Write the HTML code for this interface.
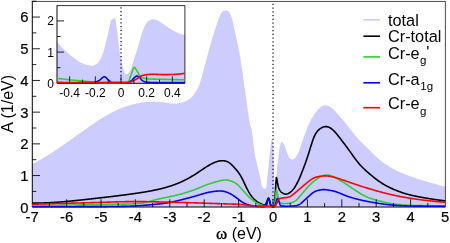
<!DOCTYPE html>
<html><head><meta charset="utf-8"><title>Spectral function</title>
<style>
html,body{margin:0;padding:0;background:#fff;}
body{width:450px;height:243px;overflow:hidden;}
svg{display:block;will-change:transform;}
svg text{font-family:"Liberation Sans",sans-serif;fill:#000;}
.c{fill:none;stroke-width:1.6;stroke-linejoin:round;stroke-linecap:butt;}
.tk line{stroke:#000;stroke-width:0.85;}
</style></head><body>
<svg width="450" height="243" viewBox="0 0 450 243">
<rect x="0" y="0" width="450" height="243" fill="#fff"/>
<!-- main plot -->
<path d="M32.30 164.00 L32.70 163.80 L33.10 163.60 L33.50 163.40 L33.90 163.19 L34.30 162.98 L34.70 162.78 L35.10 162.57 L35.50 162.36 L35.90 162.15 L36.30 161.93 L36.70 161.72 L37.10 161.50 L37.50 161.28 L37.90 161.07 L38.30 160.85 L38.70 160.62 L39.10 160.40 L39.50 160.18 L39.90 159.95 L40.30 159.73 L40.70 159.50 L41.10 159.27 L41.50 159.04 L41.90 158.81 L42.30 158.57 L42.70 158.34 L43.10 158.10 L43.50 157.87 L43.90 157.63 L44.30 157.39 L44.70 157.15 L45.10 156.91 L45.50 156.67 L45.90 156.42 L46.30 156.18 L46.70 155.94 L47.10 155.69 L47.50 155.44 L47.90 155.19 L48.30 154.94 L48.70 154.69 L49.10 154.44 L49.50 154.19 L49.90 153.94 L50.30 153.68 L50.70 153.43 L51.10 153.17 L51.50 152.91 L51.90 152.66 L52.30 152.40 L52.70 152.14 L53.10 151.88 L53.50 151.62 L53.90 151.36 L54.30 151.09 L54.70 150.83 L55.10 150.56 L55.50 150.30 L55.90 150.03 L56.30 149.77 L56.70 149.50 L57.10 149.23 L57.50 148.96 L57.90 148.69 L58.30 148.42 L58.70 148.15 L59.10 147.88 L59.50 147.61 L59.90 147.34 L60.30 147.07 L60.70 146.79 L61.10 146.52 L61.50 146.24 L61.90 145.97 L62.30 145.69 L62.70 145.42 L63.10 145.14 L63.50 144.86 L63.90 144.58 L64.30 144.31 L64.70 144.03 L65.10 143.75 L65.50 143.47 L65.90 143.19 L66.30 142.91 L66.70 142.63 L67.10 142.35 L67.50 142.07 L67.90 141.78 L68.30 141.50 L68.70 141.22 L69.10 140.94 L69.50 140.66 L69.90 140.37 L70.30 140.09 L70.70 139.81 L71.10 139.52 L71.50 139.24 L71.90 138.95 L72.30 138.67 L72.70 138.39 L73.10 138.10 L73.50 137.82 L73.90 137.53 L74.30 137.25 L74.70 136.96 L75.10 136.68 L75.50 136.39 L75.90 136.11 L76.30 135.82 L76.70 135.54 L77.10 135.25 L77.50 134.97 L77.90 134.68 L78.30 134.40 L78.70 134.11 L79.10 133.83 L79.50 133.54 L79.90 133.26 L80.30 132.97 L80.70 132.69 L81.10 132.40 L81.50 132.12 L81.90 131.83 L82.30 131.55 L82.70 131.27 L83.10 130.98 L83.50 130.70 L83.90 130.42 L84.30 130.13 L84.70 129.85 L85.10 129.57 L85.50 129.29 L85.90 129.01 L86.30 128.72 L86.70 128.44 L87.10 128.16 L87.50 127.88 L87.90 127.60 L88.30 127.32 L88.70 127.05 L89.10 126.77 L89.50 126.49 L89.90 126.21 L90.30 125.94 L90.70 125.66 L91.10 125.39 L91.50 125.11 L91.90 124.84 L92.30 124.56 L92.70 124.29 L93.10 124.02 L93.50 123.75 L93.90 123.48 L94.30 123.21 L94.70 122.94 L95.10 122.67 L95.50 122.41 L95.90 122.14 L96.30 121.87 L96.70 121.61 L97.10 121.35 L97.50 121.09 L97.90 120.82 L98.30 120.56 L98.70 120.30 L99.10 120.05 L99.50 119.79 L99.90 119.53 L100.30 119.28 L100.70 119.03 L101.10 118.77 L101.50 118.52 L101.90 118.27 L102.30 118.02 L102.70 117.78 L103.10 117.53 L103.50 117.29 L103.90 117.04 L104.30 116.80 L104.70 116.56 L105.10 116.32 L105.50 116.08 L105.90 115.85 L106.30 115.61 L106.70 115.38 L107.10 115.14 L107.50 114.91 L107.90 114.69 L108.30 114.46 L108.70 114.23 L109.10 114.01 L109.50 113.79 L109.90 113.56 L110.30 113.35 L110.70 113.13 L111.10 112.91 L111.50 112.70 L111.90 112.49 L112.30 112.28 L112.70 112.07 L113.10 111.86 L113.50 111.66 L113.90 111.45 L114.30 111.25 L114.70 111.05 L115.10 110.86 L115.50 110.66 L115.90 110.47 L116.30 110.28 L116.70 110.09 L117.10 109.90 L117.50 109.72 L117.90 109.54 L118.30 109.36 L118.70 109.18 L119.10 109.01 L119.50 108.83 L119.90 108.66 L120.30 108.49 L120.70 108.33 L121.10 108.16 L121.50 108.00 L121.90 107.85 L122.30 107.69 L122.70 107.54 L123.10 107.38 L123.50 107.24 L123.90 107.09 L124.30 106.95 L124.70 106.81 L125.10 106.67 L125.50 106.53 L125.90 106.40 L126.30 106.27 L126.70 106.14 L127.10 106.02 L127.50 105.89 L127.90 105.77 L128.30 105.65 L128.70 105.53 L129.10 105.42 L129.50 105.30 L129.90 105.19 L130.30 105.08 L130.70 104.98 L131.10 104.87 L131.50 104.77 L131.90 104.66 L132.30 104.56 L132.70 104.47 L133.10 104.37 L133.50 104.27 L133.90 104.18 L134.30 104.09 L134.70 104.00 L135.10 103.91 L135.50 103.82 L135.90 103.73 L136.30 103.65 L136.70 103.56 L137.10 103.48 L137.50 103.40 L137.90 103.32 L138.30 103.24 L138.70 103.16 L139.10 103.08 L139.50 103.01 L139.90 102.94 L140.30 102.86 L140.70 102.79 L141.10 102.72 L141.50 102.66 L141.90 102.59 L142.30 102.53 L142.70 102.46 L143.10 102.40 L143.50 102.35 L143.90 102.29 L144.30 102.24 L144.70 102.18 L145.10 102.13 L145.50 102.08 L145.90 102.04 L146.30 101.99 L146.70 101.95 L147.10 101.91 L147.50 101.88 L147.90 101.84 L148.30 101.81 L148.70 101.78 L149.10 101.75 L149.50 101.73 L149.90 101.71 L150.30 101.69 L150.70 101.67 L151.10 101.65 L151.50 101.64 L151.90 101.63 L152.30 101.63 L152.70 101.62 L153.10 101.62 L153.50 101.62 L153.90 101.63 L154.30 101.63 L154.70 101.64 L155.10 101.66 L155.50 101.67 L155.90 101.69 L156.30 101.71 L156.70 101.73 L157.10 101.75 L157.50 101.78 L157.90 101.81 L158.30 101.84 L158.70 101.87 L159.10 101.91 L159.50 101.95 L159.90 101.99 L160.30 102.03 L160.70 102.08 L161.10 102.13 L161.50 102.18 L161.90 102.23 L162.30 102.28 L162.70 102.34 L163.10 102.39 L163.50 102.45 L163.90 102.50 L164.30 102.56 L164.70 102.62 L165.10 102.68 L165.50 102.73 L165.90 102.79 L166.30 102.85 L166.70 102.90 L167.10 102.95 L167.50 103.01 L167.90 103.06 L168.30 103.11 L168.70 103.16 L169.10 103.20 L169.50 103.25 L169.90 103.29 L170.30 103.33 L170.70 103.37 L171.10 103.40 L171.50 103.43 L171.90 103.45 L172.30 103.48 L172.70 103.50 L173.10 103.51 L173.50 103.52 L173.90 103.53 L174.30 103.54 L174.70 103.53 L175.10 103.53 L175.50 103.52 L175.90 103.50 L176.30 103.48 L176.70 103.45 L177.10 103.42 L177.50 103.38 L177.90 103.34 L178.30 103.29 L178.70 103.23 L179.10 103.17 L179.50 103.10 L179.90 103.02 L180.30 102.94 L180.70 102.85 L181.10 102.75 L181.50 102.65 L181.90 102.53 L182.30 102.42 L182.70 102.29 L183.10 102.16 L183.50 102.03 L183.90 101.89 L184.30 101.74 L184.70 101.58 L185.10 101.42 L185.50 101.26 L185.90 101.09 L186.30 100.91 L186.70 100.72 L187.10 100.52 L187.50 100.31 L187.90 100.09 L188.30 99.85 L188.70 99.60 L189.10 99.32 L189.50 99.03 L189.90 98.72 L190.30 98.39 L190.70 98.03 L191.10 97.65 L191.50 97.25 L191.90 96.82 L192.30 96.38 L192.70 95.91 L193.10 95.43 L193.50 94.92 L193.90 94.40 L194.30 93.86 L194.70 93.31 L195.10 92.74 L195.50 92.15 L195.90 91.55 L196.30 90.92 L196.70 90.27 L197.10 89.57 L197.50 88.83 L197.90 88.04 L198.30 87.19 L198.70 86.27 L199.10 85.28 L199.50 84.20 L199.90 83.04 L200.30 81.80 L200.70 80.49 L201.10 79.13 L201.50 77.72 L201.90 76.29 L202.30 74.83 L202.70 73.37 L203.10 71.90 L203.50 70.43 L203.90 68.95 L204.30 67.47 L204.70 65.99 L205.10 64.50 L205.50 63.00 L205.90 61.50 L206.30 59.99 L206.70 58.48 L207.10 56.98 L207.50 55.47 L207.90 53.97 L208.30 52.47 L208.70 50.99 L209.10 49.51 L209.50 48.05 L209.90 46.60 L210.30 45.17 L210.70 43.76 L211.10 42.37 L211.50 41.00 L211.90 39.66 L212.30 38.34 L212.70 37.04 L213.10 35.76 L213.50 34.49 L213.90 33.24 L214.30 32.00 L214.70 30.77 L215.10 29.54 L215.50 28.33 L215.90 27.12 L216.30 25.91 L216.70 24.72 L217.10 23.53 L217.50 22.35 L217.90 21.17 L218.30 20.00 L218.70 18.84 L219.10 17.70 L219.50 16.62 L219.90 15.59 L220.30 14.66 L220.70 13.84 L221.10 13.14 L221.50 12.58 L221.90 12.14 L222.30 11.79 L222.70 11.52 L223.10 11.30 L223.50 11.11 L223.90 10.95 L224.30 10.81 L224.70 10.70 L225.10 10.63 L225.50 10.60 L225.90 10.61 L226.30 10.67 L226.70 10.76 L227.10 10.89 L227.50 11.06 L227.90 11.25 L228.30 11.47 L228.70 11.74 L229.10 12.08 L229.50 12.53 L229.90 13.13 L230.30 13.89 L230.70 14.81 L231.10 15.90 L231.50 17.13 L231.90 18.50 L232.30 20.00 L232.70 21.61 L233.10 23.32 L233.50 25.10 L233.90 26.92 L234.30 28.77 L234.70 30.62 L235.10 32.45 L235.50 34.25 L235.90 36.03 L236.30 37.79 L236.70 39.56 L237.10 41.33 L237.50 43.13 L237.90 44.97 L238.30 46.86 L238.70 48.81 L239.10 50.84 L239.50 52.97 L239.90 55.20 L240.30 57.55 L240.70 60.04 L241.10 62.67 L241.50 65.45 L241.90 68.31 L242.30 71.21 L242.70 74.12 L243.10 77.01 L243.50 79.85 L243.90 82.66 L244.30 85.43 L244.70 88.20 L245.10 90.98 L245.50 93.82 L245.90 96.74 L246.30 99.72 L246.70 102.68 L247.10 105.58 L247.50 108.42 L247.90 111.19 L248.30 113.87 L248.70 116.45 L249.10 118.91 L249.50 121.25 L249.90 123.45 L250.30 125.44 L250.70 126.41 L251.10 127.21 L251.50 129.08 L251.90 131.56 L252.30 134.40 L252.70 137.50 L253.10 140.74 L253.50 144.03 L253.90 147.26 L254.30 150.33 L254.70 153.13 L255.10 155.57 L255.50 157.66 L255.90 159.55 L256.30 161.34 L256.70 163.10 L257.10 164.84 L257.50 166.54 L257.90 168.23 L258.30 169.91 L258.70 171.58 L259.10 173.25 L259.50 174.92 L259.90 176.59 L260.30 178.29 L260.70 180.00 L261.10 181.92 L261.50 183.98 L261.90 185.80 L262.30 187.00 L262.70 187.65 L263.10 188.11 L263.50 188.40 L263.90 188.57 L264.30 188.66 L264.70 188.69 L265.10 188.70 L265.50 188.49 L265.90 187.94 L266.30 187.00 L266.70 183.48 L267.10 179.05 L267.50 175.31 L267.90 171.63 L268.30 168.00 L268.70 164.40 L269.10 160.87 L269.50 157.57 L269.90 153.96 L270.30 149.12 L270.70 145.22 L271.10 142.06 L271.50 140.00 L271.90 139.60 L272.30 140.47 L272.70 141.95 L273.10 145.66 L273.50 152.00 L273.90 164.59 L274.30 178.12 L274.70 189.13 L275.10 196.04 L275.50 192.66 L275.90 185.65 L276.30 178.92 L276.70 172.04 L277.10 166.98 L277.50 163.62 L277.90 160.75 L278.30 157.58 L278.70 154.19 L279.10 151.01 L279.50 148.48 L279.90 146.69 L280.30 145.09 L280.70 143.72 L281.10 142.70 L281.50 142.10 L281.90 142.02 L282.30 142.22 L282.70 142.55 L283.10 143.02 L283.50 143.61 L283.90 144.31 L284.30 145.12 L284.70 146.05 L285.10 147.06 L285.50 148.13 L285.90 149.23 L286.30 150.38 L286.70 151.67 L287.10 153.00 L287.50 154.25 L287.90 155.29 L288.30 156.09 L288.70 156.79 L289.10 157.41 L289.50 157.92 L289.90 158.32 L290.30 158.63 L290.70 158.92 L291.10 159.17 L291.50 159.38 L291.90 159.53 L292.30 159.61 L292.70 159.61 L293.10 159.53 L293.50 159.36 L293.90 159.11 L294.30 158.78 L294.70 158.39 L295.10 157.94 L295.50 157.42 L295.90 156.86 L296.30 156.25 L296.70 155.61 L297.10 154.93 L297.50 154.22 L297.90 153.49 L298.30 152.71 L298.70 151.84 L299.10 150.88 L299.50 149.84 L299.90 148.75 L300.30 147.60 L300.70 146.41 L301.10 145.20 L301.50 143.99 L301.90 142.78 L302.30 141.59 L302.70 140.42 L303.10 139.27 L303.50 138.13 L303.90 136.99 L304.30 135.86 L304.70 134.74 L305.10 133.65 L305.50 132.58 L305.90 131.52 L306.30 130.49 L306.70 129.48 L307.10 128.49 L307.50 127.52 L307.90 126.57 L308.30 125.65 L308.70 124.75 L309.10 123.87 L309.50 123.01 L309.90 122.18 L310.30 121.37 L310.70 120.58 L311.10 119.81 L311.50 119.07 L311.90 118.34 L312.30 117.64 L312.70 116.96 L313.10 116.29 L313.50 115.65 L313.90 115.03 L314.30 114.42 L314.70 113.83 L315.10 113.26 L315.50 112.70 L315.90 112.17 L316.30 111.64 L316.70 111.14 L317.10 110.66 L317.50 110.19 L317.90 109.74 L318.30 109.31 L318.70 108.90 L319.10 108.51 L319.50 108.14 L319.90 107.78 L320.30 107.45 L320.70 107.14 L321.10 106.85 L321.50 106.59 L321.90 106.34 L322.30 106.12 L322.70 105.93 L323.10 105.76 L323.50 105.61 L323.90 105.49 L324.30 105.40 L324.70 105.33 L325.10 105.29 L325.50 105.28 L325.90 105.30 L326.30 105.34 L326.70 105.41 L327.10 105.51 L327.50 105.62 L327.90 105.76 L328.30 105.92 L328.70 106.09 L329.10 106.29 L329.50 106.50 L329.90 106.73 L330.30 106.97 L330.70 107.23 L331.10 107.51 L331.50 107.80 L331.90 108.11 L332.30 108.43 L332.70 108.77 L333.10 109.12 L333.50 109.48 L333.90 109.86 L334.30 110.26 L334.70 110.66 L335.10 111.08 L335.50 111.51 L335.90 111.94 L336.30 112.38 L336.70 112.84 L337.10 113.29 L337.50 113.75 L337.90 114.22 L338.30 114.69 L338.70 115.16 L339.10 115.64 L339.50 116.11 L339.90 116.58 L340.30 117.05 L340.70 117.52 L341.10 117.99 L341.50 118.46 L341.90 118.93 L342.30 119.39 L342.70 119.86 L343.10 120.33 L343.50 120.80 L343.90 121.27 L344.30 121.74 L344.70 122.21 L345.10 122.69 L345.50 123.17 L345.90 123.65 L346.30 124.14 L346.70 124.63 L347.10 125.12 L347.50 125.62 L347.90 126.13 L348.30 126.63 L348.70 127.14 L349.10 127.65 L349.50 128.17 L349.90 128.68 L350.30 129.20 L350.70 129.71 L351.10 130.23 L351.50 130.74 L351.90 131.26 L352.30 131.77 L352.70 132.28 L353.10 132.79 L353.50 133.29 L353.90 133.79 L354.30 134.29 L354.70 134.79 L355.10 135.28 L355.50 135.76 L355.90 136.24 L356.30 136.72 L356.70 137.19 L357.10 137.65 L357.50 138.11 L357.90 138.56 L358.30 139.00 L358.70 139.44 L359.10 139.86 L359.50 140.28 L359.90 140.70 L360.30 141.11 L360.70 141.51 L361.10 141.92 L361.50 142.31 L361.90 142.71 L362.30 143.10 L362.70 143.48 L363.10 143.87 L363.50 144.26 L363.90 144.64 L364.30 145.03 L364.70 145.41 L365.10 145.80 L365.50 146.18 L365.90 146.57 L366.30 146.96 L366.70 147.35 L367.10 147.75 L367.50 148.14 L367.90 148.53 L368.30 148.93 L368.70 149.32 L369.10 149.72 L369.50 150.11 L369.90 150.51 L370.30 150.91 L370.70 151.31 L371.10 151.70 L371.50 152.10 L371.90 152.50 L372.30 152.90 L372.70 153.29 L373.10 153.69 L373.50 154.08 L373.90 154.48 L374.30 154.87 L374.70 155.26 L375.10 155.65 L375.50 156.04 L375.90 156.42 L376.30 156.80 L376.70 157.18 L377.10 157.55 L377.50 157.92 L377.90 158.29 L378.30 158.65 L378.70 159.01 L379.10 159.36 L379.50 159.71 L379.90 160.05 L380.30 160.38 L380.70 160.71 L381.10 161.04 L381.50 161.36 L381.90 161.67 L382.30 161.98 L382.70 162.29 L383.10 162.58 L383.50 162.88 L383.90 163.17 L384.30 163.45 L384.70 163.73 L385.10 164.01 L385.50 164.28 L385.90 164.55 L386.30 164.81 L386.70 165.07 L387.10 165.33 L387.50 165.58 L387.90 165.83 L388.30 166.07 L388.70 166.32 L389.10 166.56 L389.50 166.79 L389.90 167.03 L390.30 167.26 L390.70 167.49 L391.10 167.71 L391.50 167.94 L391.90 168.16 L392.30 168.38 L392.70 168.59 L393.10 168.81 L393.50 169.02 L393.90 169.23 L394.30 169.44 L394.70 169.64 L395.10 169.85 L395.50 170.05 L395.90 170.24 L396.30 170.44 L396.70 170.64 L397.10 170.83 L397.50 171.02 L397.90 171.21 L398.30 171.39 L398.70 171.58 L399.10 171.76 L399.50 171.94 L399.90 172.12 L400.30 172.30 L400.70 172.48 L401.10 172.65 L401.50 172.82 L401.90 172.99 L402.30 173.16 L402.70 173.33 L403.10 173.50 L403.50 173.66 L403.90 173.82 L404.30 173.98 L404.70 174.14 L405.10 174.30 L405.50 174.46 L405.90 174.62 L406.30 174.77 L406.70 174.93 L407.10 175.08 L407.50 175.23 L407.90 175.38 L408.30 175.53 L408.70 175.68 L409.10 175.83 L409.50 175.97 L409.90 176.12 L410.30 176.26 L410.70 176.41 L411.10 176.55 L411.50 176.69 L411.90 176.84 L412.30 176.98 L412.70 177.12 L413.10 177.26 L413.50 177.39 L413.90 177.53 L414.30 177.67 L414.70 177.80 L415.10 177.94 L415.50 178.08 L415.90 178.21 L416.30 178.34 L416.70 178.48 L417.10 178.61 L417.50 178.74 L417.90 178.87 L418.30 179.00 L418.70 179.13 L419.10 179.26 L419.50 179.38 L419.90 179.51 L420.30 179.64 L420.70 179.76 L421.10 179.89 L421.50 180.01 L421.90 180.14 L422.30 180.26 L422.70 180.38 L423.10 180.50 L423.50 180.63 L423.90 180.75 L424.30 180.87 L424.70 180.99 L425.10 181.11 L425.50 181.22 L425.90 181.34 L426.30 181.46 L426.70 181.58 L427.10 181.69 L427.50 181.81 L427.90 181.93 L428.30 182.04 L428.70 182.16 L429.10 182.27 L429.50 182.39 L429.90 182.50 L430.30 182.61 L430.70 182.73 L431.10 182.84 L431.50 182.95 L431.90 183.07 L432.30 183.18 L432.70 183.29 L433.10 183.40 L433.50 183.51 L433.90 183.62 L434.30 183.74 L434.70 183.85 L435.10 183.96 L435.50 184.07 L435.90 184.18 L436.30 184.29 L436.70 184.40 L437.10 184.51 L437.50 184.62 L437.90 184.72 L438.30 184.83 L438.70 184.94 L439.10 185.05 L439.50 185.16 L439.90 185.27 L440.30 185.38 L440.70 185.49 L441.10 185.60 L441.50 185.71 L441.90 185.82 L442.30 185.92 L442.70 186.03 L443.10 186.14 L443.50 186.25 L443.90 186.36 L444.30 186.47 L444.70 186.58 L445.10 186.69 L445.50 186.80 L445.50 207.00 L32.30 207.00 Z" fill="#ccccff" stroke="none"/>
<line x1="273.0" y1="207.42" x2="273.0" y2="1.2" stroke="#000" stroke-width="1.15" stroke-dasharray="1.25 2.5"/>
<path d="M32.3 1.2 L32.3 207.0 L445.3 207.0" fill="none" stroke="#000" stroke-width="1"/>
<path d="M31.799999999999997 1.45 L445.40000000000003 1.45 L445.40000000000003 207.0" fill="none" stroke="#000" stroke-width="0.7"/>
<path class="c" d="M32.30 203.10 L32.70 203.10 L33.10 203.10 L33.50 203.10 L33.90 203.11 L34.30 203.10 L34.70 203.10 L35.10 203.10 L35.50 203.10 L35.90 203.10 L36.30 203.09 L36.70 203.09 L37.10 203.09 L37.50 203.08 L37.90 203.08 L38.30 203.07 L38.70 203.06 L39.10 203.06 L39.50 203.05 L39.90 203.04 L40.30 203.03 L40.70 203.02 L41.10 203.01 L41.50 203.00 L41.90 202.99 L42.30 202.98 L42.70 202.97 L43.10 202.95 L43.50 202.94 L43.90 202.93 L44.30 202.91 L44.70 202.90 L45.10 202.88 L45.50 202.87 L45.90 202.85 L46.30 202.83 L46.70 202.82 L47.10 202.80 L47.50 202.78 L47.90 202.76 L48.30 202.74 L48.70 202.72 L49.10 202.70 L49.50 202.68 L49.90 202.66 L50.30 202.64 L50.70 202.62 L51.10 202.60 L51.50 202.58 L51.90 202.55 L52.30 202.53 L52.70 202.50 L53.10 202.48 L53.50 202.46 L53.90 202.43 L54.30 202.41 L54.70 202.38 L55.10 202.35 L55.50 202.33 L55.90 202.30 L56.30 202.27 L56.70 202.24 L57.10 202.22 L57.50 202.19 L57.90 202.16 L58.30 202.13 L58.70 202.10 L59.10 202.07 L59.50 202.04 L59.90 202.01 L60.30 201.98 L60.70 201.95 L61.10 201.91 L61.50 201.88 L61.90 201.85 L62.30 201.82 L62.70 201.78 L63.10 201.75 L63.50 201.72 L63.90 201.68 L64.30 201.65 L64.70 201.61 L65.10 201.58 L65.50 201.54 L65.90 201.51 L66.30 201.47 L66.70 201.44 L67.10 201.40 L67.50 201.36 L67.90 201.33 L68.30 201.29 L68.70 201.25 L69.10 201.22 L69.50 201.18 L69.90 201.14 L70.30 201.10 L70.70 201.06 L71.10 201.02 L71.50 200.98 L71.90 200.95 L72.30 200.91 L72.70 200.87 L73.10 200.83 L73.50 200.79 L73.90 200.75 L74.30 200.71 L74.70 200.67 L75.10 200.63 L75.50 200.58 L75.90 200.54 L76.30 200.50 L76.70 200.46 L77.10 200.42 L77.50 200.38 L77.90 200.33 L78.30 200.29 L78.70 200.25 L79.10 200.21 L79.50 200.17 L79.90 200.12 L80.30 200.08 L80.70 200.04 L81.10 199.99 L81.50 199.95 L81.90 199.91 L82.30 199.86 L82.70 199.82 L83.10 199.78 L83.50 199.73 L83.90 199.69 L84.30 199.65 L84.70 199.60 L85.10 199.56 L85.50 199.51 L85.90 199.47 L86.30 199.42 L86.70 199.38 L87.10 199.34 L87.50 199.29 L87.90 199.25 L88.30 199.20 L88.70 199.16 L89.10 199.11 L89.50 199.07 L89.90 199.02 L90.30 198.98 L90.70 198.93 L91.10 198.89 L91.50 198.84 L91.90 198.80 L92.30 198.75 L92.70 198.71 L93.10 198.66 L93.50 198.62 L93.90 198.57 L94.30 198.53 L94.70 198.48 L95.10 198.44 L95.50 198.39 L95.90 198.35 L96.30 198.30 L96.70 198.26 L97.10 198.21 L97.50 198.17 L97.90 198.12 L98.30 198.08 L98.70 198.03 L99.10 197.99 L99.50 197.94 L99.90 197.89 L100.30 197.85 L100.70 197.80 L101.10 197.76 L101.50 197.71 L101.90 197.67 L102.30 197.62 L102.70 197.57 L103.10 197.53 L103.50 197.48 L103.90 197.44 L104.30 197.39 L104.70 197.34 L105.10 197.30 L105.50 197.25 L105.90 197.20 L106.30 197.16 L106.70 197.11 L107.10 197.06 L107.50 197.02 L107.90 196.97 L108.30 196.92 L108.70 196.87 L109.10 196.83 L109.50 196.78 L109.90 196.73 L110.30 196.68 L110.70 196.64 L111.10 196.59 L111.50 196.54 L111.90 196.49 L112.30 196.44 L112.70 196.40 L113.10 196.35 L113.50 196.30 L113.90 196.25 L114.30 196.20 L114.70 196.15 L115.10 196.10 L115.50 196.05 L115.90 196.01 L116.30 195.96 L116.70 195.91 L117.10 195.86 L117.50 195.81 L117.90 195.76 L118.30 195.71 L118.70 195.66 L119.10 195.61 L119.50 195.56 L119.90 195.51 L120.30 195.46 L120.70 195.40 L121.10 195.35 L121.50 195.30 L121.90 195.25 L122.30 195.20 L122.70 195.15 L123.10 195.10 L123.50 195.04 L123.90 194.99 L124.30 194.94 L124.70 194.89 L125.10 194.84 L125.50 194.78 L125.90 194.73 L126.30 194.68 L126.70 194.62 L127.10 194.57 L127.50 194.52 L127.90 194.46 L128.30 194.41 L128.70 194.35 L129.10 194.30 L129.50 194.25 L129.90 194.19 L130.30 194.14 L130.70 194.08 L131.10 194.03 L131.50 193.97 L131.90 193.91 L132.30 193.86 L132.70 193.80 L133.10 193.75 L133.50 193.69 L133.90 193.63 L134.30 193.57 L134.70 193.52 L135.10 193.46 L135.50 193.40 L135.90 193.34 L136.30 193.29 L136.70 193.23 L137.10 193.17 L137.50 193.11 L137.90 193.05 L138.30 192.99 L138.70 192.93 L139.10 192.87 L139.50 192.81 L139.90 192.75 L140.30 192.69 L140.70 192.62 L141.10 192.56 L141.50 192.50 L141.90 192.44 L142.30 192.37 L142.70 192.31 L143.10 192.25 L143.50 192.18 L143.90 192.12 L144.30 192.05 L144.70 191.98 L145.10 191.92 L145.50 191.85 L145.90 191.78 L146.30 191.71 L146.70 191.65 L147.10 191.58 L147.50 191.51 L147.90 191.44 L148.30 191.36 L148.70 191.29 L149.10 191.22 L149.50 191.15 L149.90 191.07 L150.30 191.00 L150.70 190.92 L151.10 190.85 L151.50 190.77 L151.90 190.70 L152.30 190.62 L152.70 190.54 L153.10 190.46 L153.50 190.38 L153.90 190.30 L154.30 190.22 L154.70 190.13 L155.10 190.05 L155.50 189.97 L155.90 189.88 L156.30 189.80 L156.70 189.71 L157.10 189.62 L157.50 189.53 L157.90 189.44 L158.30 189.35 L158.70 189.26 L159.10 189.17 L159.50 189.08 L159.90 188.98 L160.30 188.88 L160.70 188.79 L161.10 188.69 L161.50 188.59 L161.90 188.49 L162.30 188.39 L162.70 188.29 L163.10 188.18 L163.50 188.08 L163.90 187.97 L164.30 187.86 L164.70 187.76 L165.10 187.64 L165.50 187.53 L165.90 187.42 L166.30 187.31 L166.70 187.19 L167.10 187.07 L167.50 186.96 L167.90 186.84 L168.30 186.72 L168.70 186.59 L169.10 186.47 L169.50 186.34 L169.90 186.22 L170.30 186.09 L170.70 185.96 L171.10 185.83 L171.50 185.69 L171.90 185.56 L172.30 185.42 L172.70 185.28 L173.10 185.14 L173.50 185.00 L173.90 184.86 L174.30 184.71 L174.70 184.57 L175.10 184.42 L175.50 184.27 L175.90 184.11 L176.30 183.96 L176.70 183.80 L177.10 183.64 L177.50 183.48 L177.90 183.32 L178.30 183.16 L178.70 182.99 L179.10 182.83 L179.50 182.66 L179.90 182.48 L180.30 182.31 L180.70 182.13 L181.10 181.95 L181.50 181.77 L181.90 181.59 L182.30 181.41 L182.70 181.22 L183.10 181.03 L183.50 180.84 L183.90 180.64 L184.30 180.45 L184.70 180.25 L185.10 180.05 L185.50 179.85 L185.90 179.64 L186.30 179.43 L186.70 179.22 L187.10 179.01 L187.50 178.80 L187.90 178.58 L188.30 178.36 L188.70 178.14 L189.10 177.92 L189.50 177.69 L189.90 177.47 L190.30 177.24 L190.70 177.01 L191.10 176.77 L191.50 176.54 L191.90 176.30 L192.30 176.06 L192.70 175.82 L193.10 175.57 L193.50 175.33 L193.90 175.08 L194.30 174.83 L194.70 174.58 L195.10 174.33 L195.50 174.07 L195.90 173.82 L196.30 173.56 L196.70 173.30 L197.10 173.04 L197.50 172.77 L197.90 172.51 L198.30 172.24 L198.70 171.98 L199.10 171.71 L199.50 171.44 L199.90 171.17 L200.30 170.90 L200.70 170.63 L201.10 170.36 L201.50 170.09 L201.90 169.82 L202.30 169.55 L202.70 169.29 L203.10 169.02 L203.50 168.75 L203.90 168.49 L204.30 168.22 L204.70 167.96 L205.10 167.70 L205.50 167.44 L205.90 167.19 L206.30 166.93 L206.70 166.68 L207.10 166.43 L207.50 166.18 L207.90 165.94 L208.30 165.70 L208.70 165.46 L209.10 165.23 L209.50 165.00 L209.90 164.77 L210.30 164.55 L210.70 164.33 L211.10 164.12 L211.50 163.91 L211.90 163.70 L212.30 163.50 L212.70 163.31 L213.10 163.12 L213.50 162.94 L213.90 162.76 L214.30 162.59 L214.70 162.42 L215.10 162.26 L215.50 162.11 L215.90 161.96 L216.30 161.83 L216.70 161.69 L217.10 161.57 L217.50 161.45 L217.90 161.34 L218.30 161.24 L218.70 161.14 L219.10 161.06 L219.50 160.98 L219.90 160.91 L220.30 160.85 L220.70 160.80 L221.10 160.76 L221.50 160.73 L221.90 160.71 L222.30 160.70 L222.70 160.70 L223.10 160.71 L223.50 160.74 L223.90 160.78 L224.30 160.83 L224.70 160.89 L225.10 160.97 L225.50 161.07 L225.90 161.18 L226.30 161.30 L226.70 161.44 L227.10 161.60 L227.50 161.78 L227.90 161.97 L228.30 162.18 L228.70 162.41 L229.10 162.66 L229.50 162.93 L229.90 163.22 L230.30 163.54 L230.70 163.87 L231.10 164.22 L231.50 164.58 L231.90 164.97 L232.30 165.36 L232.70 165.77 L233.10 166.19 L233.50 166.63 L233.90 167.06 L234.30 167.51 L234.70 167.96 L235.10 168.41 L235.50 168.87 L235.90 169.33 L236.30 169.80 L236.70 170.28 L237.10 170.77 L237.50 171.27 L237.90 171.78 L238.30 172.31 L238.70 172.86 L239.10 173.42 L239.50 174.01 L239.90 174.62 L240.30 175.26 L240.70 175.92 L241.10 176.61 L241.50 177.33 L241.90 178.08 L242.30 178.86 L242.70 179.67 L243.10 180.50 L243.50 181.34 L243.90 182.20 L244.30 183.06 L244.70 183.93 L245.10 184.79 L245.50 185.65 L245.90 186.49 L246.30 187.32 L246.70 188.13 L247.10 188.92 L247.50 189.69 L247.90 190.44 L248.30 191.17 L248.70 191.87 L249.10 192.55 L249.50 193.21 L249.90 193.85 L250.30 194.45 L250.70 195.04 L251.10 195.60 L251.50 196.13 L251.90 196.65 L252.30 197.14 L252.70 197.61 L253.10 198.05 L253.50 198.48 L253.90 198.89 L254.30 199.29 L254.70 199.66 L255.10 200.02 L255.50 200.36 L255.90 200.69 L256.30 201.00 L256.70 201.30 L257.10 201.58 L257.50 201.86 L257.90 202.12 L258.30 202.37 L258.70 202.62 L259.10 202.86 L259.50 203.10 L259.90 203.32 L260.30 203.53 L260.70 203.73 L261.10 203.92 L261.50 204.10 L261.90 204.26 L262.30 204.41 L262.70 204.53 L263.10 204.62 L263.50 204.68 L263.90 204.72 L264.30 204.73 L264.70 204.71 L265.10 204.59 L265.50 204.21 L265.90 203.66 L266.30 203.00 L266.70 202.08 L267.10 200.89 L267.50 199.80 L267.90 198.82 L268.30 198.05 L268.70 198.00 L269.10 198.88 L269.50 200.18 L269.90 201.68 L270.30 203.49 L270.70 204.72 L271.10 205.40 L271.50 205.89 L271.90 206.28 L272.30 206.53 L272.70 206.63 L273.10 206.60 L273.50 206.42 L273.90 206.10 L274.30 204.73 L274.70 200.91 L275.10 196.15 L275.50 190.33 L275.90 182.55 L276.30 177.54 L276.70 178.13 L277.10 180.61 L277.50 183.00 L277.90 184.88 L278.30 186.71 L278.70 188.00 L279.10 188.82 L279.50 189.60 L279.90 190.30 L280.30 190.94 L280.70 191.50 L281.10 191.98 L281.50 192.36 L281.90 192.65 L282.30 192.86 L282.70 193.07 L283.10 193.30 L283.50 193.51 L283.90 193.71 L284.30 193.90 L284.70 194.05 L285.10 194.15 L285.50 194.21 L285.90 194.21 L286.30 194.16 L286.70 194.08 L287.10 193.97 L287.50 193.84 L287.90 193.68 L288.30 193.50 L288.70 193.29 L289.10 193.05 L289.50 192.80 L289.90 192.53 L290.30 192.24 L290.70 191.93 L291.10 191.59 L291.50 191.24 L291.90 190.85 L292.30 190.44 L292.70 190.00 L293.10 189.53 L293.50 189.03 L293.90 188.50 L294.30 187.94 L294.70 187.35 L295.10 186.73 L295.50 186.09 L295.90 185.42 L296.30 184.72 L296.70 184.00 L297.10 183.25 L297.50 182.48 L297.90 181.68 L298.30 180.85 L298.70 180.00 L299.10 179.11 L299.50 178.20 L299.90 177.26 L300.30 176.29 L300.70 175.29 L301.10 174.29 L301.50 173.27 L301.90 172.25 L302.30 171.24 L302.70 170.22 L303.10 169.19 L303.50 168.16 L303.90 167.12 L304.30 166.07 L304.70 165.00 L305.10 163.91 L305.50 162.80 L305.90 161.67 L306.30 160.52 L306.70 159.35 L307.10 158.16 L307.50 156.96 L307.90 155.73 L308.30 154.49 L308.70 153.24 L309.10 151.96 L309.50 150.68 L309.90 149.38 L310.30 148.07 L310.70 146.77 L311.10 145.47 L311.50 144.20 L311.90 142.94 L312.30 141.73 L312.70 140.55 L313.10 139.42 L313.50 138.35 L313.90 137.34 L314.30 136.40 L314.70 135.54 L315.10 134.74 L315.50 134.00 L315.90 133.32 L316.30 132.70 L316.70 132.13 L317.10 131.60 L317.50 131.12 L317.90 130.67 L318.30 130.26 L318.70 129.88 L319.10 129.53 L319.50 129.20 L319.90 128.89 L320.30 128.60 L320.70 128.32 L321.10 128.07 L321.50 127.83 L321.90 127.62 L322.30 127.42 L322.70 127.25 L323.10 127.09 L323.50 126.96 L323.90 126.85 L324.30 126.75 L324.70 126.68 L325.10 126.63 L325.50 126.61 L325.90 126.60 L326.30 126.62 L326.70 126.65 L327.10 126.71 L327.50 126.79 L327.90 126.90 L328.30 127.02 L328.70 127.16 L329.10 127.33 L329.50 127.52 L329.90 127.72 L330.30 127.95 L330.70 128.20 L331.10 128.46 L331.50 128.75 L331.90 129.06 L332.30 129.38 L332.70 129.73 L333.10 130.09 L333.50 130.47 L333.90 130.87 L334.30 131.28 L334.70 131.71 L335.10 132.15 L335.50 132.60 L335.90 133.06 L336.30 133.53 L336.70 134.01 L337.10 134.50 L337.50 135.00 L337.90 135.50 L338.30 136.01 L338.70 136.52 L339.10 137.04 L339.50 137.55 L339.90 138.07 L340.30 138.59 L340.70 139.11 L341.10 139.63 L341.50 140.14 L341.90 140.66 L342.30 141.18 L342.70 141.70 L343.10 142.23 L343.50 142.75 L343.90 143.27 L344.30 143.80 L344.70 144.32 L345.10 144.85 L345.50 145.38 L345.90 145.92 L346.30 146.45 L346.70 146.99 L347.10 147.53 L347.50 148.07 L347.90 148.62 L348.30 149.17 L348.70 149.72 L349.10 150.28 L349.50 150.84 L349.90 151.40 L350.30 151.96 L350.70 152.53 L351.10 153.10 L351.50 153.66 L351.90 154.23 L352.30 154.80 L352.70 155.36 L353.10 155.93 L353.50 156.49 L353.90 157.04 L354.30 157.60 L354.70 158.15 L355.10 158.69 L355.50 159.23 L355.90 159.77 L356.30 160.29 L356.70 160.81 L357.10 161.32 L357.50 161.83 L357.90 162.32 L358.30 162.81 L358.70 163.29 L359.10 163.75 L359.50 164.21 L359.90 164.67 L360.30 165.11 L360.70 165.55 L361.10 165.98 L361.50 166.40 L361.90 166.81 L362.30 167.22 L362.70 167.63 L363.10 168.02 L363.50 168.41 L363.90 168.80 L364.30 169.18 L364.70 169.56 L365.10 169.93 L365.50 170.30 L365.90 170.66 L366.30 171.02 L366.70 171.38 L367.10 171.74 L367.50 172.09 L367.90 172.44 L368.30 172.78 L368.70 173.13 L369.10 173.47 L369.50 173.81 L369.90 174.15 L370.30 174.49 L370.70 174.83 L371.10 175.16 L371.50 175.50 L371.90 175.83 L372.30 176.16 L372.70 176.48 L373.10 176.81 L373.50 177.13 L373.90 177.45 L374.30 177.76 L374.70 178.08 L375.10 178.39 L375.50 178.70 L375.90 179.00 L376.30 179.31 L376.70 179.61 L377.10 179.90 L377.50 180.20 L377.90 180.49 L378.30 180.78 L378.70 181.06 L379.10 181.34 L379.50 181.62 L379.90 181.89 L380.30 182.16 L380.70 182.43 L381.10 182.69 L381.50 182.95 L381.90 183.20 L382.30 183.46 L382.70 183.70 L383.10 183.95 L383.50 184.19 L383.90 184.43 L384.30 184.67 L384.70 184.90 L385.10 185.13 L385.50 185.36 L385.90 185.58 L386.30 185.80 L386.70 186.02 L387.10 186.23 L387.50 186.44 L387.90 186.65 L388.30 186.86 L388.70 187.06 L389.10 187.26 L389.50 187.46 L389.90 187.65 L390.30 187.84 L390.70 188.03 L391.10 188.22 L391.50 188.40 L391.90 188.58 L392.30 188.76 L392.70 188.94 L393.10 189.11 L393.50 189.28 L393.90 189.46 L394.30 189.62 L394.70 189.79 L395.10 189.96 L395.50 190.12 L395.90 190.28 L396.30 190.44 L396.70 190.60 L397.10 190.76 L397.50 190.91 L397.90 191.07 L398.30 191.22 L398.70 191.37 L399.10 191.52 L399.50 191.67 L399.90 191.81 L400.30 191.96 L400.70 192.10 L401.10 192.24 L401.50 192.38 L401.90 192.52 L402.30 192.65 L402.70 192.79 L403.10 192.92 L403.50 193.05 L403.90 193.18 L404.30 193.30 L404.70 193.43 L405.10 193.55 L405.50 193.67 L405.90 193.79 L406.30 193.90 L406.70 194.02 L407.10 194.13 L407.50 194.24 L407.90 194.35 L408.30 194.46 L408.70 194.56 L409.10 194.67 L409.50 194.77 L409.90 194.87 L410.30 194.97 L410.70 195.06 L411.10 195.16 L411.50 195.25 L411.90 195.35 L412.30 195.44 L412.70 195.53 L413.10 195.62 L413.50 195.71 L413.90 195.79 L414.30 195.88 L414.70 195.96 L415.10 196.05 L415.50 196.13 L415.90 196.21 L416.30 196.29 L416.70 196.37 L417.10 196.45 L417.50 196.53 L417.90 196.61 L418.30 196.68 L418.70 196.76 L419.10 196.84 L419.50 196.91 L419.90 196.99 L420.30 197.06 L420.70 197.13 L421.10 197.21 L421.50 197.28 L421.90 197.35 L422.30 197.42 L422.70 197.49 L423.10 197.56 L423.50 197.64 L423.90 197.71 L424.30 197.78 L424.70 197.85 L425.10 197.92 L425.50 197.99 L425.90 198.06 L426.30 198.13 L426.70 198.19 L427.10 198.26 L427.50 198.33 L427.90 198.40 L428.30 198.47 L428.70 198.53 L429.10 198.60 L429.50 198.67 L429.90 198.73 L430.30 198.80 L430.70 198.86 L431.10 198.93 L431.50 198.99 L431.90 199.05 L432.30 199.12 L432.70 199.18 L433.10 199.24 L433.50 199.30 L433.90 199.36 L434.30 199.42 L434.70 199.48 L435.10 199.54 L435.50 199.60 L435.90 199.65 L436.30 199.71 L436.70 199.77 L437.10 199.82 L437.50 199.88 L437.90 199.93 L438.30 199.99 L438.70 200.04 L439.10 200.09 L439.50 200.14 L439.90 200.19 L440.30 200.24 L440.70 200.29 L441.10 200.34 L441.50 200.38 L441.90 200.43 L442.30 200.47 L442.70 200.52 L443.10 200.56 L443.50 200.60 L443.90 200.64 L444.30 200.68 L444.70 200.72 L445.10 200.76 L445.50 200.80" stroke="#000"/>
<path class="c" d="M32.30 205.50 L32.70 205.49 L33.10 205.49 L33.50 205.48 L33.90 205.48 L34.30 205.47 L34.70 205.47 L35.10 205.46 L35.50 205.46 L35.90 205.45 L36.30 205.45 L36.70 205.44 L37.10 205.44 L37.50 205.43 L37.90 205.43 L38.30 205.42 L38.70 205.42 L39.10 205.41 L39.50 205.41 L39.90 205.40 L40.30 205.40 L40.70 205.39 L41.10 205.39 L41.50 205.38 L41.90 205.38 L42.30 205.37 L42.70 205.37 L43.10 205.36 L43.50 205.36 L43.90 205.35 L44.30 205.35 L44.70 205.35 L45.10 205.34 L45.50 205.34 L45.90 205.33 L46.30 205.33 L46.70 205.32 L47.10 205.32 L47.50 205.31 L47.90 205.31 L48.30 205.30 L48.70 205.30 L49.10 205.29 L49.50 205.29 L49.90 205.28 L50.30 205.28 L50.70 205.28 L51.10 205.27 L51.50 205.27 L51.90 205.26 L52.30 205.26 L52.70 205.25 L53.10 205.25 L53.50 205.24 L53.90 205.24 L54.30 205.23 L54.70 205.23 L55.10 205.23 L55.50 205.22 L55.90 205.22 L56.30 205.21 L56.70 205.21 L57.10 205.20 L57.50 205.20 L57.90 205.19 L58.30 205.19 L58.70 205.18 L59.10 205.18 L59.50 205.18 L59.90 205.17 L60.30 205.17 L60.70 205.16 L61.10 205.16 L61.50 205.15 L61.90 205.15 L62.30 205.14 L62.70 205.14 L63.10 205.13 L63.50 205.13 L63.90 205.12 L64.30 205.12 L64.70 205.12 L65.10 205.11 L65.50 205.11 L65.90 205.10 L66.30 205.10 L66.70 205.09 L67.10 205.09 L67.50 205.08 L67.90 205.08 L68.30 205.07 L68.70 205.07 L69.10 205.06 L69.50 205.06 L69.90 205.05 L70.30 205.05 L70.70 205.04 L71.10 205.04 L71.50 205.03 L71.90 205.03 L72.30 205.02 L72.70 205.02 L73.10 205.01 L73.50 205.01 L73.90 205.00 L74.30 205.00 L74.70 204.99 L75.10 204.99 L75.50 204.98 L75.90 204.98 L76.30 204.97 L76.70 204.97 L77.10 204.96 L77.50 204.96 L77.90 204.95 L78.30 204.95 L78.70 204.94 L79.10 204.94 L79.50 204.93 L79.90 204.92 L80.30 204.92 L80.70 204.91 L81.10 204.91 L81.50 204.90 L81.90 204.90 L82.30 204.89 L82.70 204.89 L83.10 204.88 L83.50 204.87 L83.90 204.87 L84.30 204.86 L84.70 204.86 L85.10 204.85 L85.50 204.84 L85.90 204.84 L86.30 204.83 L86.70 204.83 L87.10 204.82 L87.50 204.81 L87.90 204.81 L88.30 204.80 L88.70 204.80 L89.10 204.79 L89.50 204.78 L89.90 204.78 L90.30 204.77 L90.70 204.76 L91.10 204.76 L91.50 204.75 L91.90 204.74 L92.30 204.74 L92.70 204.73 L93.10 204.72 L93.50 204.72 L93.90 204.71 L94.30 204.70 L94.70 204.70 L95.10 204.69 L95.50 204.68 L95.90 204.68 L96.30 204.67 L96.70 204.66 L97.10 204.65 L97.50 204.65 L97.90 204.64 L98.30 204.63 L98.70 204.62 L99.10 204.62 L99.50 204.61 L99.90 204.60 L100.30 204.59 L100.70 204.59 L101.10 204.58 L101.50 204.57 L101.90 204.56 L102.30 204.56 L102.70 204.55 L103.10 204.54 L103.50 204.53 L103.90 204.52 L104.30 204.52 L104.70 204.51 L105.10 204.50 L105.50 204.49 L105.90 204.48 L106.30 204.47 L106.70 204.47 L107.10 204.46 L107.50 204.45 L107.90 204.44 L108.30 204.43 L108.70 204.42 L109.10 204.42 L109.50 204.41 L109.90 204.40 L110.30 204.39 L110.70 204.38 L111.10 204.37 L111.50 204.37 L111.90 204.36 L112.30 204.35 L112.70 204.34 L113.10 204.33 L113.50 204.32 L113.90 204.32 L114.30 204.31 L114.70 204.30 L115.10 204.29 L115.50 204.28 L115.90 204.27 L116.30 204.27 L116.70 204.26 L117.10 204.25 L117.50 204.24 L117.90 204.23 L118.30 204.23 L118.70 204.22 L119.10 204.21 L119.50 204.20 L119.90 204.19 L120.30 204.19 L120.70 204.18 L121.10 204.17 L121.50 204.16 L121.90 204.16 L122.30 204.15 L122.70 204.14 L123.10 204.13 L123.50 204.13 L123.90 204.12 L124.30 204.11 L124.70 204.11 L125.10 204.10 L125.50 204.09 L125.90 204.08 L126.30 204.08 L126.70 204.07 L127.10 204.06 L127.50 204.06 L127.90 204.05 L128.30 204.04 L128.70 204.03 L129.10 204.02 L129.50 204.01 L129.90 204.00 L130.30 203.99 L130.70 203.98 L131.10 203.97 L131.50 203.96 L131.90 203.94 L132.30 203.93 L132.70 203.91 L133.10 203.90 L133.50 203.88 L133.90 203.86 L134.30 203.84 L134.70 203.82 L135.10 203.80 L135.50 203.77 L135.90 203.75 L136.30 203.72 L136.70 203.69 L137.10 203.66 L137.50 203.63 L137.90 203.60 L138.30 203.57 L138.70 203.53 L139.10 203.49 L139.50 203.45 L139.90 203.41 L140.30 203.37 L140.70 203.32 L141.10 203.27 L141.50 203.22 L141.90 203.17 L142.30 203.11 L142.70 203.05 L143.10 202.99 L143.50 202.93 L143.90 202.86 L144.30 202.79 L144.70 202.71 L145.10 202.63 L145.50 202.55 L145.90 202.46 L146.30 202.37 L146.70 202.27 L147.10 202.17 L147.50 202.07 L147.90 201.96 L148.30 201.85 L148.70 201.73 L149.10 201.62 L149.50 201.49 L149.90 201.37 L150.30 201.25 L150.70 201.13 L151.10 201.00 L151.50 200.88 L151.90 200.75 L152.30 200.63 L152.70 200.51 L153.10 200.39 L153.50 200.27 L153.90 200.16 L154.30 200.04 L154.70 199.94 L155.10 199.83 L155.50 199.72 L155.90 199.62 L156.30 199.52 L156.70 199.42 L157.10 199.33 L157.50 199.23 L157.90 199.14 L158.30 199.05 L158.70 198.96 L159.10 198.87 L159.50 198.79 L159.90 198.70 L160.30 198.62 L160.70 198.53 L161.10 198.45 L161.50 198.37 L161.90 198.29 L162.30 198.21 L162.70 198.13 L163.10 198.05 L163.50 197.98 L163.90 197.90 L164.30 197.82 L164.70 197.74 L165.10 197.67 L165.50 197.59 L165.90 197.51 L166.30 197.44 L166.70 197.36 L167.10 197.28 L167.50 197.20 L167.90 197.12 L168.30 197.04 L168.70 196.96 L169.10 196.88 L169.50 196.80 L169.90 196.71 L170.30 196.63 L170.70 196.54 L171.10 196.46 L171.50 196.37 L171.90 196.28 L172.30 196.19 L172.70 196.10 L173.10 196.01 L173.50 195.92 L173.90 195.83 L174.30 195.73 L174.70 195.64 L175.10 195.54 L175.50 195.45 L175.90 195.35 L176.30 195.25 L176.70 195.15 L177.10 195.05 L177.50 194.95 L177.90 194.85 L178.30 194.74 L178.70 194.64 L179.10 194.53 L179.50 194.43 L179.90 194.32 L180.30 194.21 L180.70 194.10 L181.10 194.00 L181.50 193.88 L181.90 193.77 L182.30 193.66 L182.70 193.55 L183.10 193.43 L183.50 193.32 L183.90 193.20 L184.30 193.09 L184.70 192.97 L185.10 192.85 L185.50 192.73 L185.90 192.61 L186.30 192.49 L186.70 192.37 L187.10 192.24 L187.50 192.12 L187.90 191.99 L188.30 191.87 L188.70 191.74 L189.10 191.61 L189.50 191.48 L189.90 191.35 L190.30 191.22 L190.70 191.08 L191.10 190.95 L191.50 190.81 L191.90 190.67 L192.30 190.53 L192.70 190.39 L193.10 190.25 L193.50 190.11 L193.90 189.96 L194.30 189.82 L194.70 189.67 L195.10 189.52 L195.50 189.37 L195.90 189.21 L196.30 189.06 L196.70 188.90 L197.10 188.74 L197.50 188.58 L197.90 188.42 L198.30 188.26 L198.70 188.09 L199.10 187.93 L199.50 187.76 L199.90 187.59 L200.30 187.43 L200.70 187.26 L201.10 187.09 L201.50 186.92 L201.90 186.75 L202.30 186.59 L202.70 186.42 L203.10 186.25 L203.50 186.09 L203.90 185.92 L204.30 185.76 L204.70 185.60 L205.10 185.44 L205.50 185.28 L205.90 185.12 L206.30 184.96 L206.70 184.81 L207.10 184.66 L207.50 184.51 L207.90 184.36 L208.30 184.22 L208.70 184.08 L209.10 183.94 L209.50 183.80 L209.90 183.67 L210.30 183.54 L210.70 183.41 L211.10 183.28 L211.50 183.16 L211.90 183.03 L212.30 182.91 L212.70 182.79 L213.10 182.68 L213.50 182.56 L213.90 182.44 L214.30 182.33 L214.70 182.22 L215.10 182.11 L215.50 182.00 L215.90 181.89 L216.30 181.78 L216.70 181.68 L217.10 181.57 L217.50 181.46 L217.90 181.36 L218.30 181.26 L218.70 181.15 L219.10 181.05 L219.50 180.95 L219.90 180.84 L220.30 180.75 L220.70 180.65 L221.10 180.56 L221.50 180.47 L221.90 180.39 L222.30 180.31 L222.70 180.24 L223.10 180.17 L223.50 180.12 L223.90 180.07 L224.30 180.03 L224.70 180.00 L225.10 179.98 L225.50 179.98 L225.90 179.98 L226.30 180.00 L226.70 180.03 L227.10 180.08 L227.50 180.13 L227.90 180.20 L228.30 180.28 L228.70 180.36 L229.10 180.46 L229.50 180.56 L229.90 180.67 L230.30 180.79 L230.70 180.91 L231.10 181.04 L231.50 181.18 L231.90 181.33 L232.30 181.48 L232.70 181.65 L233.10 181.83 L233.50 182.01 L233.90 182.21 L234.30 182.43 L234.70 182.65 L235.10 182.89 L235.50 183.14 L235.90 183.41 L236.30 183.70 L236.70 184.00 L237.10 184.32 L237.50 184.65 L237.90 185.00 L238.30 185.37 L238.70 185.75 L239.10 186.14 L239.50 186.54 L239.90 186.95 L240.30 187.37 L240.70 187.80 L241.10 188.24 L241.50 188.68 L241.90 189.13 L242.30 189.58 L242.70 190.04 L243.10 190.49 L243.50 190.95 L243.90 191.42 L244.30 191.88 L244.70 192.33 L245.10 192.79 L245.50 193.25 L245.90 193.70 L246.30 194.14 L246.70 194.59 L247.10 195.02 L247.50 195.46 L247.90 195.88 L248.30 196.30 L248.70 196.71 L249.10 197.11 L249.50 197.50 L249.90 197.88 L250.30 198.25 L250.70 198.61 L251.10 198.96 L251.50 199.29 L251.90 199.62 L252.30 199.93 L252.70 200.24 L253.10 200.53 L253.50 200.82 L253.90 201.10 L254.30 201.37 L254.70 201.65 L255.10 201.91 L255.50 202.18 L255.90 202.43 L256.30 202.67 L256.70 202.90 L257.10 203.11 L257.50 203.30 L257.90 203.48 L258.30 203.66 L258.70 203.84 L259.10 204.01 L259.50 204.18 L259.90 204.34 L260.30 204.51 L260.70 204.66 L261.10 204.81 L261.50 204.95 L261.90 205.09 L262.30 205.21 L262.70 205.33 L263.10 205.44 L263.50 205.53 L263.90 205.62 L264.30 205.70 L264.70 205.77 L265.10 205.85 L265.50 205.91 L265.90 205.98 L266.30 206.04 L266.70 206.10 L267.10 206.16 L267.50 206.22 L267.90 206.28 L268.30 206.35 L268.70 206.40 L269.10 206.45 L269.50 206.49 L269.90 206.53 L270.30 206.56 L270.70 206.58 L271.10 206.59 L271.50 206.60 L271.90 206.60 L272.30 206.60 L272.70 206.59 L273.10 206.57 L273.50 206.54 L273.90 206.51 L274.30 205.83 L274.70 203.53 L275.10 200.67 L275.50 197.33 L275.90 192.91 L276.30 190.12 L276.70 190.62 L277.10 192.48 L277.50 194.57 L277.90 196.29 L278.30 198.09 L278.70 199.68 L279.10 200.70 L279.50 201.45 L279.90 202.11 L280.30 202.64 L280.70 203.04 L281.10 203.26 L281.50 203.32 L281.90 203.35 L282.30 203.38 L282.70 203.42 L283.10 203.45 L283.50 203.48 L283.90 203.50 L284.30 203.52 L284.70 203.53 L285.10 203.53 L285.50 203.53 L285.90 203.51 L286.30 203.48 L286.70 203.45 L287.10 203.41 L287.50 203.38 L287.90 203.34 L288.30 203.30 L288.70 203.26 L289.10 203.21 L289.50 203.16 L289.90 203.11 L290.30 203.05 L290.70 202.97 L291.10 202.87 L291.50 202.75 L291.90 202.62 L292.30 202.47 L292.70 202.32 L293.10 202.16 L293.50 202.00 L293.90 201.82 L294.30 201.60 L294.70 201.35 L295.10 201.08 L295.50 200.78 L295.90 200.47 L296.30 200.14 L296.70 199.80 L297.10 199.44 L297.50 199.04 L297.90 198.62 L298.30 198.17 L298.70 197.71 L299.10 197.25 L299.50 196.78 L299.90 196.32 L300.30 195.85 L300.70 195.38 L301.10 194.91 L301.50 194.44 L301.90 193.96 L302.30 193.49 L302.70 193.01 L303.10 192.54 L303.50 192.06 L303.90 191.59 L304.30 191.11 L304.70 190.63 L305.10 190.16 L305.50 189.69 L305.90 189.22 L306.30 188.76 L306.70 188.30 L307.10 187.85 L307.50 187.40 L307.90 186.97 L308.30 186.53 L308.70 186.11 L309.10 185.69 L309.50 185.28 L309.90 184.87 L310.30 184.47 L310.70 184.08 L311.10 183.70 L311.50 183.32 L311.90 182.95 L312.30 182.58 L312.70 182.22 L313.10 181.87 L313.50 181.53 L313.90 181.19 L314.30 180.86 L314.70 180.54 L315.10 180.23 L315.50 179.92 L315.90 179.62 L316.30 179.33 L316.70 179.04 L317.10 178.76 L317.50 178.50 L317.90 178.23 L318.30 177.98 L318.70 177.74 L319.10 177.50 L319.50 177.27 L319.90 177.05 L320.30 176.84 L320.70 176.64 L321.10 176.45 L321.50 176.26 L321.90 176.09 L322.30 175.93 L322.70 175.78 L323.10 175.64 L323.50 175.51 L323.90 175.40 L324.30 175.30 L324.70 175.21 L325.10 175.14 L325.50 175.08 L325.90 175.04 L326.30 175.01 L326.70 175.00 L327.10 175.00 L327.50 175.03 L327.90 175.06 L328.30 175.11 L328.70 175.18 L329.10 175.25 L329.50 175.34 L329.90 175.45 L330.30 175.56 L330.70 175.68 L331.10 175.82 L331.50 175.96 L331.90 176.11 L332.30 176.27 L332.70 176.44 L333.10 176.61 L333.50 176.79 L333.90 176.98 L334.30 177.17 L334.70 177.36 L335.10 177.56 L335.50 177.77 L335.90 177.98 L336.30 178.19 L336.70 178.41 L337.10 178.63 L337.50 178.85 L337.90 179.07 L338.30 179.30 L338.70 179.53 L339.10 179.77 L339.50 180.00 L339.90 180.24 L340.30 180.48 L340.70 180.72 L341.10 180.96 L341.50 181.20 L341.90 181.45 L342.30 181.69 L342.70 181.94 L343.10 182.19 L343.50 182.44 L343.90 182.69 L344.30 182.94 L344.70 183.20 L345.10 183.45 L345.50 183.71 L345.90 183.97 L346.30 184.24 L346.70 184.50 L347.10 184.77 L347.50 185.03 L347.90 185.30 L348.30 185.58 L348.70 185.85 L349.10 186.12 L349.50 186.39 L349.90 186.67 L350.30 186.94 L350.70 187.22 L351.10 187.49 L351.50 187.77 L351.90 188.04 L352.30 188.32 L352.70 188.59 L353.10 188.86 L353.50 189.14 L353.90 189.41 L354.30 189.67 L354.70 189.94 L355.10 190.21 L355.50 190.47 L355.90 190.73 L356.30 190.99 L356.70 191.25 L357.10 191.51 L357.50 191.76 L357.90 192.01 L358.30 192.26 L358.70 192.51 L359.10 192.76 L359.50 193.00 L359.90 193.24 L360.30 193.48 L360.70 193.71 L361.10 193.95 L361.50 194.18 L361.90 194.40 L362.30 194.63 L362.70 194.85 L363.10 195.06 L363.50 195.28 L363.90 195.49 L364.30 195.70 L364.70 195.90 L365.10 196.10 L365.50 196.30 L365.90 196.49 L366.30 196.68 L366.70 196.86 L367.10 197.04 L367.50 197.22 L367.90 197.39 L368.30 197.56 L368.70 197.72 L369.10 197.88 L369.50 198.03 L369.90 198.18 L370.30 198.33 L370.70 198.47 L371.10 198.61 L371.50 198.74 L371.90 198.87 L372.30 199.00 L372.70 199.12 L373.10 199.24 L373.50 199.36 L373.90 199.48 L374.30 199.59 L374.70 199.71 L375.10 199.82 L375.50 199.92 L375.90 200.03 L376.30 200.14 L376.70 200.24 L377.10 200.34 L377.50 200.45 L377.90 200.55 L378.30 200.65 L378.70 200.75 L379.10 200.85 L379.50 200.95 L379.90 201.05 L380.30 201.15 L380.70 201.25 L381.10 201.35 L381.50 201.45 L381.90 201.55 L382.30 201.65 L382.70 201.75 L383.10 201.85 L383.50 201.94 L383.90 202.04 L384.30 202.13 L384.70 202.22 L385.10 202.32 L385.50 202.41 L385.90 202.50 L386.30 202.58 L386.70 202.67 L387.10 202.76 L387.50 202.84 L387.90 202.92 L388.30 203.00 L388.70 203.08 L389.10 203.15 L389.50 203.23 L389.90 203.30 L390.30 203.37 L390.70 203.44 L391.10 203.51 L391.50 203.57 L391.90 203.64 L392.30 203.70 L392.70 203.76 L393.10 203.82 L393.50 203.88 L393.90 203.94 L394.30 203.99 L394.70 204.05 L395.10 204.10 L395.50 204.15 L395.90 204.20 L396.30 204.25 L396.70 204.30 L397.10 204.35 L397.50 204.39 L397.90 204.44 L398.30 204.48 L398.70 204.52 L399.10 204.57 L399.50 204.61 L399.90 204.64 L400.30 204.68 L400.70 204.72 L401.10 204.76 L401.50 204.79 L401.90 204.83 L402.30 204.86 L402.70 204.89 L403.10 204.92 L403.50 204.95 L403.90 204.98 L404.30 205.01 L404.70 205.04 L405.10 205.07 L405.50 205.09 L405.90 205.12 L406.30 205.14 L406.70 205.17 L407.10 205.19 L407.50 205.21 L407.90 205.23 L408.30 205.25 L408.70 205.27 L409.10 205.29 L409.50 205.31 L409.90 205.33 L410.30 205.35 L410.70 205.36 L411.10 205.38 L411.50 205.40 L411.90 205.41 L412.30 205.42 L412.70 205.44 L413.10 205.45 L413.50 205.46 L413.90 205.48 L414.30 205.49 L414.70 205.50 L415.10 205.51 L415.50 205.52 L415.90 205.53 L416.30 205.54 L416.70 205.55 L417.10 205.55 L417.50 205.56 L417.90 205.57 L418.30 205.57 L418.70 205.58 L419.10 205.59 L419.50 205.59 L419.90 205.60 L420.30 205.60 L420.70 205.61 L421.10 205.61 L421.50 205.62 L421.90 205.62 L422.30 205.63 L422.70 205.63 L423.10 205.63 L423.50 205.64 L423.90 205.64 L424.30 205.64 L424.70 205.64 L425.10 205.65 L425.50 205.65 L425.90 205.65 L426.30 205.65 L426.70 205.65 L427.10 205.66 L427.50 205.66 L427.90 205.66 L428.30 205.66 L428.70 205.66 L429.10 205.66 L429.50 205.67 L429.90 205.67 L430.30 205.67 L430.70 205.67 L431.10 205.67 L431.50 205.68 L431.90 205.68 L432.30 205.68 L432.70 205.68 L433.10 205.68 L433.50 205.69 L433.90 205.69 L434.30 205.69 L434.70 205.70 L435.10 205.70 L435.50 205.70 L435.90 205.71 L436.30 205.71 L436.70 205.71 L437.10 205.72 L437.50 205.72 L437.90 205.73 L438.30 205.73 L438.70 205.74 L439.10 205.75 L439.50 205.75 L439.90 205.76 L440.30 205.77 L440.70 205.77 L441.10 205.78 L441.50 205.79 L441.90 205.80 L442.30 205.81 L442.70 205.82 L443.10 205.83 L443.50 205.84 L443.90 205.85 L444.30 205.86 L444.70 205.87 L445.10 205.89 L445.50 205.90" stroke="#33cc33"/>
<path class="c" d="M32.30 206.80 L32.70 206.80 L33.10 206.80 L33.50 206.80 L33.90 206.79 L34.30 206.79 L34.70 206.79 L35.10 206.79 L35.50 206.79 L35.90 206.79 L36.30 206.79 L36.70 206.79 L37.10 206.78 L37.50 206.78 L37.90 206.78 L38.30 206.78 L38.70 206.78 L39.10 206.78 L39.50 206.78 L39.90 206.78 L40.30 206.77 L40.70 206.77 L41.10 206.77 L41.50 206.77 L41.90 206.77 L42.30 206.77 L42.70 206.77 L43.10 206.77 L43.50 206.76 L43.90 206.76 L44.30 206.76 L44.70 206.76 L45.10 206.76 L45.50 206.76 L45.90 206.76 L46.30 206.76 L46.70 206.76 L47.10 206.75 L47.50 206.75 L47.90 206.75 L48.30 206.75 L48.70 206.75 L49.10 206.75 L49.50 206.75 L49.90 206.75 L50.30 206.74 L50.70 206.74 L51.10 206.74 L51.50 206.74 L51.90 206.74 L52.30 206.74 L52.70 206.74 L53.10 206.74 L53.50 206.74 L53.90 206.73 L54.30 206.73 L54.70 206.73 L55.10 206.73 L55.50 206.73 L55.90 206.73 L56.30 206.73 L56.70 206.73 L57.10 206.73 L57.50 206.72 L57.90 206.72 L58.30 206.72 L58.70 206.72 L59.10 206.72 L59.50 206.72 L59.90 206.72 L60.30 206.72 L60.70 206.71 L61.10 206.71 L61.50 206.71 L61.90 206.71 L62.30 206.71 L62.70 206.71 L63.10 206.71 L63.50 206.71 L63.90 206.71 L64.30 206.70 L64.70 206.70 L65.10 206.70 L65.50 206.70 L65.90 206.70 L66.30 206.70 L66.70 206.70 L67.10 206.70 L67.50 206.70 L67.90 206.69 L68.30 206.69 L68.70 206.69 L69.10 206.69 L69.50 206.69 L69.90 206.69 L70.30 206.69 L70.70 206.69 L71.10 206.69 L71.50 206.68 L71.90 206.68 L72.30 206.68 L72.70 206.68 L73.10 206.68 L73.50 206.68 L73.90 206.68 L74.30 206.68 L74.70 206.68 L75.10 206.67 L75.50 206.67 L75.90 206.67 L76.30 206.67 L76.70 206.67 L77.10 206.67 L77.50 206.67 L77.90 206.67 L78.30 206.67 L78.70 206.66 L79.10 206.66 L79.50 206.66 L79.90 206.66 L80.30 206.66 L80.70 206.66 L81.10 206.66 L81.50 206.66 L81.90 206.65 L82.30 206.65 L82.70 206.65 L83.10 206.65 L83.50 206.65 L83.90 206.65 L84.30 206.65 L84.70 206.65 L85.10 206.65 L85.50 206.64 L85.90 206.64 L86.30 206.64 L86.70 206.64 L87.10 206.64 L87.50 206.64 L87.90 206.64 L88.30 206.64 L88.70 206.63 L89.10 206.63 L89.50 206.63 L89.90 206.63 L90.30 206.63 L90.70 206.63 L91.10 206.63 L91.50 206.63 L91.90 206.63 L92.30 206.62 L92.70 206.62 L93.10 206.62 L93.50 206.62 L93.90 206.62 L94.30 206.62 L94.70 206.62 L95.10 206.62 L95.50 206.61 L95.90 206.61 L96.30 206.61 L96.70 206.61 L97.10 206.61 L97.50 206.61 L97.90 206.61 L98.30 206.61 L98.70 206.60 L99.10 206.60 L99.50 206.60 L99.90 206.60 L100.30 206.60 L100.70 206.60 L101.10 206.60 L101.50 206.60 L101.90 206.59 L102.30 206.59 L102.70 206.59 L103.10 206.59 L103.50 206.59 L103.90 206.59 L104.30 206.59 L104.70 206.58 L105.10 206.58 L105.50 206.58 L105.90 206.58 L106.30 206.58 L106.70 206.57 L107.10 206.57 L107.50 206.57 L107.90 206.57 L108.30 206.57 L108.70 206.56 L109.10 206.56 L109.50 206.56 L109.90 206.56 L110.30 206.55 L110.70 206.55 L111.10 206.55 L111.50 206.54 L111.90 206.54 L112.30 206.54 L112.70 206.53 L113.10 206.53 L113.50 206.53 L113.90 206.52 L114.30 206.52 L114.70 206.52 L115.10 206.51 L115.50 206.51 L115.90 206.50 L116.30 206.50 L116.70 206.49 L117.10 206.49 L117.50 206.48 L117.90 206.48 L118.30 206.47 L118.70 206.46 L119.10 206.46 L119.50 206.45 L119.90 206.44 L120.30 206.44 L120.70 206.43 L121.10 206.42 L121.50 206.42 L121.90 206.41 L122.30 206.40 L122.70 206.39 L123.10 206.38 L123.50 206.37 L123.90 206.37 L124.30 206.36 L124.70 206.35 L125.10 206.34 L125.50 206.33 L125.90 206.32 L126.30 206.31 L126.70 206.29 L127.10 206.28 L127.50 206.27 L127.90 206.26 L128.30 206.25 L128.70 206.23 L129.10 206.22 L129.50 206.21 L129.90 206.19 L130.30 206.18 L130.70 206.16 L131.10 206.15 L131.50 206.13 L131.90 206.11 L132.30 206.10 L132.70 206.08 L133.10 206.06 L133.50 206.04 L133.90 206.02 L134.30 206.00 L134.70 205.98 L135.10 205.96 L135.50 205.94 L135.90 205.92 L136.30 205.90 L136.70 205.87 L137.10 205.85 L137.50 205.82 L137.90 205.80 L138.30 205.77 L138.70 205.75 L139.10 205.72 L139.50 205.69 L139.90 205.67 L140.30 205.64 L140.70 205.61 L141.10 205.58 L141.50 205.55 L141.90 205.52 L142.30 205.49 L142.70 205.45 L143.10 205.42 L143.50 205.39 L143.90 205.36 L144.30 205.32 L144.70 205.29 L145.10 205.26 L145.50 205.22 L145.90 205.19 L146.30 205.15 L146.70 205.12 L147.10 205.08 L147.50 205.05 L147.90 205.01 L148.30 204.97 L148.70 204.94 L149.10 204.90 L149.50 204.86 L149.90 204.83 L150.30 204.79 L150.70 204.75 L151.10 204.72 L151.50 204.68 L151.90 204.64 L152.30 204.60 L152.70 204.57 L153.10 204.53 L153.50 204.49 L153.90 204.45 L154.30 204.42 L154.70 204.38 L155.10 204.34 L155.50 204.30 L155.90 204.26 L156.30 204.22 L156.70 204.19 L157.10 204.15 L157.50 204.11 L157.90 204.07 L158.30 204.03 L158.70 203.99 L159.10 203.94 L159.50 203.90 L159.90 203.86 L160.30 203.81 L160.70 203.77 L161.10 203.73 L161.50 203.68 L161.90 203.63 L162.30 203.58 L162.70 203.54 L163.10 203.49 L163.50 203.43 L163.90 203.38 L164.30 203.33 L164.70 203.27 L165.10 203.22 L165.50 203.16 L165.90 203.10 L166.30 203.04 L166.70 202.98 L167.10 202.92 L167.50 202.86 L167.90 202.79 L168.30 202.72 L168.70 202.65 L169.10 202.58 L169.50 202.51 L169.90 202.44 L170.30 202.36 L170.70 202.28 L171.10 202.20 L171.50 202.12 L171.90 202.04 L172.30 201.96 L172.70 201.87 L173.10 201.79 L173.50 201.70 L173.90 201.61 L174.30 201.52 L174.70 201.43 L175.10 201.34 L175.50 201.25 L175.90 201.15 L176.30 201.06 L176.70 200.96 L177.10 200.87 L177.50 200.77 L177.90 200.67 L178.30 200.57 L178.70 200.47 L179.10 200.37 L179.50 200.27 L179.90 200.17 L180.30 200.07 L180.70 199.97 L181.10 199.87 L181.50 199.76 L181.90 199.66 L182.30 199.56 L182.70 199.45 L183.10 199.35 L183.50 199.25 L183.90 199.14 L184.30 199.04 L184.70 198.93 L185.10 198.83 L185.50 198.73 L185.90 198.62 L186.30 198.52 L186.70 198.42 L187.10 198.31 L187.50 198.21 L187.90 198.10 L188.30 198.00 L188.70 197.90 L189.10 197.79 L189.50 197.69 L189.90 197.58 L190.30 197.48 L190.70 197.37 L191.10 197.27 L191.50 197.16 L191.90 197.05 L192.30 196.94 L192.70 196.84 L193.10 196.73 L193.50 196.62 L193.90 196.50 L194.30 196.39 L194.70 196.28 L195.10 196.17 L195.50 196.05 L195.90 195.94 L196.30 195.82 L196.70 195.70 L197.10 195.58 L197.50 195.46 L197.90 195.34 L198.30 195.22 L198.70 195.09 L199.10 194.97 L199.50 194.85 L199.90 194.72 L200.30 194.60 L200.70 194.48 L201.10 194.35 L201.50 194.23 L201.90 194.11 L202.30 193.99 L202.70 193.87 L203.10 193.75 L203.50 193.63 L203.90 193.52 L204.30 193.40 L204.70 193.29 L205.10 193.18 L205.50 193.07 L205.90 192.97 L206.30 192.86 L206.70 192.76 L207.10 192.66 L207.50 192.57 L207.90 192.48 L208.30 192.39 L208.70 192.30 L209.10 192.22 L209.50 192.14 L209.90 192.07 L210.30 191.99 L210.70 191.92 L211.10 191.85 L211.50 191.79 L211.90 191.72 L212.30 191.66 L212.70 191.60 L213.10 191.55 L213.50 191.49 L213.90 191.44 L214.30 191.39 L214.70 191.34 L215.10 191.29 L215.50 191.24 L215.90 191.20 L216.30 191.15 L216.70 191.11 L217.10 191.08 L217.50 191.05 L217.90 191.02 L218.30 191.00 L218.70 190.98 L219.10 190.97 L219.50 190.96 L219.90 190.96 L220.30 190.97 L220.70 190.98 L221.10 191.01 L221.50 191.04 L221.90 191.08 L222.30 191.13 L222.70 191.18 L223.10 191.25 L223.50 191.32 L223.90 191.40 L224.30 191.49 L224.70 191.58 L225.10 191.69 L225.50 191.80 L225.90 191.92 L226.30 192.05 L226.70 192.18 L227.10 192.32 L227.50 192.47 L227.90 192.63 L228.30 192.80 L228.70 192.97 L229.10 193.16 L229.50 193.35 L229.90 193.55 L230.30 193.76 L230.70 193.97 L231.10 194.20 L231.50 194.43 L231.90 194.67 L232.30 194.92 L232.70 195.17 L233.10 195.43 L233.50 195.70 L233.90 195.97 L234.30 196.25 L234.70 196.53 L235.10 196.82 L235.50 197.11 L235.90 197.40 L236.30 197.70 L236.70 198.00 L237.10 198.30 L237.50 198.61 L237.90 198.92 L238.30 199.22 L238.70 199.53 L239.10 199.83 L239.50 200.14 L239.90 200.43 L240.30 200.73 L240.70 201.02 L241.10 201.30 L241.50 201.57 L241.90 201.84 L242.30 202.10 L242.70 202.35 L243.10 202.59 L243.50 202.81 L243.90 203.03 L244.30 203.23 L244.70 203.42 L245.10 203.60 L245.50 203.78 L245.90 203.94 L246.30 204.10 L246.70 204.25 L247.10 204.39 L247.50 204.53 L247.90 204.66 L248.30 204.79 L248.70 204.92 L249.10 205.04 L249.50 205.15 L249.90 205.27 L250.30 205.39 L250.70 205.50 L251.10 205.60 L251.50 205.69 L251.90 205.78 L252.30 205.85 L252.70 205.91 L253.10 205.97 L253.50 206.02 L253.90 206.06 L254.30 206.11 L254.70 206.16 L255.10 206.22 L255.50 206.27 L255.90 206.32 L256.30 206.36 L256.70 206.40 L257.10 206.43 L257.50 206.47 L257.90 206.49 L258.30 206.51 L258.70 206.53 L259.10 206.55 L259.50 206.56 L259.90 206.57 L260.30 206.58 L260.70 206.58 L261.10 206.59 L261.50 206.59 L261.90 206.59 L262.30 206.59 L262.70 206.59 L263.10 206.59 L263.50 206.60 L263.90 206.60 L264.30 206.58 L264.70 206.51 L265.10 206.38 L265.50 206.23 L265.90 206.05 L266.30 205.64 L266.70 204.60 L267.10 203.17 L267.50 201.60 L267.90 200.16 L268.30 199.10 L268.70 198.70 L269.10 199.25 L269.50 200.60 L269.90 202.37 L270.30 204.13 L270.70 205.49 L271.10 206.07 L271.50 206.33 L271.90 206.52 L272.30 206.65 L272.70 206.74 L273.10 206.81 L273.50 206.84 L273.90 206.81 L274.30 206.70 L274.70 206.38 L275.10 205.45 L275.50 204.13 L275.90 202.80 L276.30 201.50 L276.70 199.98 L277.10 198.73 L277.50 198.29 L277.90 198.77 L278.30 199.79 L278.70 200.94 L279.10 202.04 L279.50 203.27 L279.90 204.31 L280.30 205.01 L280.70 205.58 L281.10 205.94 L281.50 206.01 L281.90 206.04 L282.30 206.06 L282.70 206.08 L283.10 206.11 L283.50 206.13 L283.90 206.15 L284.30 206.17 L284.70 206.19 L285.10 206.20 L285.50 206.22 L285.90 206.23 L286.30 206.24 L286.70 206.25 L287.10 206.25 L287.50 206.26 L287.90 206.26 L288.30 206.25 L288.70 206.25 L289.10 206.24 L289.50 206.22 L289.90 206.21 L290.30 206.18 L290.70 206.16 L291.10 206.14 L291.50 206.12 L291.90 206.09 L292.30 206.06 L292.70 206.04 L293.10 206.01 L293.50 205.98 L293.90 205.95 L294.30 205.91 L294.70 205.88 L295.10 205.84 L295.50 205.80 L295.90 205.75 L296.30 205.67 L296.70 205.56 L297.10 205.44 L297.50 205.30 L297.90 205.14 L298.30 204.97 L298.70 204.79 L299.10 204.60 L299.50 204.40 L299.90 204.16 L300.30 203.88 L300.70 203.58 L301.10 203.25 L301.50 202.91 L301.90 202.55 L302.30 202.19 L302.70 201.84 L303.10 201.48 L303.50 201.12 L303.90 200.76 L304.30 200.39 L304.70 200.03 L305.10 199.67 L305.50 199.30 L305.90 198.94 L306.30 198.57 L306.70 198.20 L307.10 197.83 L307.50 197.46 L307.90 197.09 L308.30 196.72 L308.70 196.35 L309.10 195.97 L309.50 195.60 L309.90 195.24 L310.30 194.88 L310.70 194.53 L311.10 194.18 L311.50 193.84 L311.90 193.52 L312.30 193.21 L312.70 192.91 L313.10 192.63 L313.50 192.37 L313.90 192.13 L314.30 191.90 L314.70 191.68 L315.10 191.49 L315.50 191.30 L315.90 191.14 L316.30 190.98 L316.70 190.84 L317.10 190.70 L317.50 190.58 L317.90 190.47 L318.30 190.36 L318.70 190.27 L319.10 190.18 L319.50 190.10 L319.90 190.02 L320.30 189.95 L320.70 189.88 L321.10 189.82 L321.50 189.76 L321.90 189.71 L322.30 189.67 L322.70 189.64 L323.10 189.62 L323.50 189.60 L323.90 189.60 L324.30 189.61 L324.70 189.62 L325.10 189.65 L325.50 189.69 L325.90 189.73 L326.30 189.78 L326.70 189.83 L327.10 189.89 L327.50 189.96 L327.90 190.03 L328.30 190.10 L328.70 190.17 L329.10 190.24 L329.50 190.31 L329.90 190.38 L330.30 190.45 L330.70 190.52 L331.10 190.58 L331.50 190.65 L331.90 190.72 L332.30 190.79 L332.70 190.87 L333.10 190.96 L333.50 191.05 L333.90 191.15 L334.30 191.25 L334.70 191.36 L335.10 191.48 L335.50 191.61 L335.90 191.74 L336.30 191.87 L336.70 192.01 L337.10 192.16 L337.50 192.31 L337.90 192.46 L338.30 192.62 L338.70 192.77 L339.10 192.93 L339.50 193.10 L339.90 193.26 L340.30 193.42 L340.70 193.59 L341.10 193.75 L341.50 193.92 L341.90 194.09 L342.30 194.25 L342.70 194.42 L343.10 194.58 L343.50 194.74 L343.90 194.91 L344.30 195.07 L344.70 195.23 L345.10 195.39 L345.50 195.54 L345.90 195.70 L346.30 195.85 L346.70 196.00 L347.10 196.15 L347.50 196.29 L347.90 196.43 L348.30 196.57 L348.70 196.71 L349.10 196.84 L349.50 196.98 L349.90 197.10 L350.30 197.23 L350.70 197.36 L351.10 197.48 L351.50 197.60 L351.90 197.72 L352.30 197.84 L352.70 197.95 L353.10 198.07 L353.50 198.18 L353.90 198.29 L354.30 198.40 L354.70 198.51 L355.10 198.61 L355.50 198.72 L355.90 198.82 L356.30 198.93 L356.70 199.03 L357.10 199.13 L357.50 199.23 L357.90 199.32 L358.30 199.42 L358.70 199.52 L359.10 199.61 L359.50 199.71 L359.90 199.80 L360.30 199.90 L360.70 199.99 L361.10 200.08 L361.50 200.17 L361.90 200.26 L362.30 200.35 L362.70 200.44 L363.10 200.52 L363.50 200.61 L363.90 200.69 L364.30 200.78 L364.70 200.86 L365.10 200.95 L365.50 201.03 L365.90 201.11 L366.30 201.19 L366.70 201.27 L367.10 201.35 L367.50 201.43 L367.90 201.51 L368.30 201.59 L368.70 201.66 L369.10 201.74 L369.50 201.81 L369.90 201.89 L370.30 201.96 L370.70 202.03 L371.10 202.11 L371.50 202.18 L371.90 202.25 L372.30 202.32 L372.70 202.39 L373.10 202.46 L373.50 202.53 L373.90 202.60 L374.30 202.66 L374.70 202.73 L375.10 202.80 L375.50 202.86 L375.90 202.93 L376.30 202.99 L376.70 203.06 L377.10 203.12 L377.50 203.18 L377.90 203.25 L378.30 203.31 L378.70 203.37 L379.10 203.43 L379.50 203.49 L379.90 203.55 L380.30 203.61 L380.70 203.67 L381.10 203.73 L381.50 203.79 L381.90 203.84 L382.30 203.90 L382.70 203.95 L383.10 204.01 L383.50 204.06 L383.90 204.12 L384.30 204.17 L384.70 204.22 L385.10 204.27 L385.50 204.33 L385.90 204.37 L386.30 204.42 L386.70 204.47 L387.10 204.52 L387.50 204.57 L387.90 204.61 L388.30 204.66 L388.70 204.70 L389.10 204.74 L389.50 204.78 L389.90 204.83 L390.30 204.87 L390.70 204.90 L391.10 204.94 L391.50 204.98 L391.90 205.02 L392.30 205.05 L392.70 205.09 L393.10 205.12 L393.50 205.16 L393.90 205.19 L394.30 205.22 L394.70 205.25 L395.10 205.28 L395.50 205.31 L395.90 205.34 L396.30 205.37 L396.70 205.40 L397.10 205.43 L397.50 205.45 L397.90 205.48 L398.30 205.51 L398.70 205.53 L399.10 205.55 L399.50 205.58 L399.90 205.60 L400.30 205.62 L400.70 205.64 L401.10 205.66 L401.50 205.69 L401.90 205.71 L402.30 205.72 L402.70 205.74 L403.10 205.76 L403.50 205.78 L403.90 205.80 L404.30 205.81 L404.70 205.83 L405.10 205.84 L405.50 205.86 L405.90 205.87 L406.30 205.89 L406.70 205.90 L407.10 205.92 L407.50 205.93 L407.90 205.94 L408.30 205.95 L408.70 205.97 L409.10 205.98 L409.50 205.99 L409.90 206.00 L410.30 206.01 L410.70 206.02 L411.10 206.03 L411.50 206.04 L411.90 206.04 L412.30 206.05 L412.70 206.06 L413.10 206.07 L413.50 206.07 L413.90 206.08 L414.30 206.09 L414.70 206.09 L415.10 206.10 L415.50 206.11 L415.90 206.11 L416.30 206.12 L416.70 206.12 L417.10 206.13 L417.50 206.13 L417.90 206.14 L418.30 206.14 L418.70 206.14 L419.10 206.15 L419.50 206.15 L419.90 206.16 L420.30 206.16 L420.70 206.16 L421.10 206.16 L421.50 206.17 L421.90 206.17 L422.30 206.17 L422.70 206.17 L423.10 206.18 L423.50 206.18 L423.90 206.18 L424.30 206.18 L424.70 206.19 L425.10 206.19 L425.50 206.19 L425.90 206.19 L426.30 206.19 L426.70 206.19 L427.10 206.20 L427.50 206.20 L427.90 206.20 L428.30 206.20 L428.70 206.20 L429.10 206.20 L429.50 206.21 L429.90 206.21 L430.30 206.21 L430.70 206.21 L431.10 206.21 L431.50 206.22 L431.90 206.22 L432.30 206.22 L432.70 206.22 L433.10 206.22 L433.50 206.23 L433.90 206.23 L434.30 206.23 L434.70 206.24 L435.10 206.24 L435.50 206.24 L435.90 206.25 L436.30 206.25 L436.70 206.25 L437.10 206.26 L437.50 206.26 L437.90 206.26 L438.30 206.27 L438.70 206.27 L439.10 206.28 L439.50 206.28 L439.90 206.29 L440.30 206.30 L440.70 206.30 L441.10 206.31 L441.50 206.32 L441.90 206.32 L442.30 206.33 L442.70 206.34 L443.10 206.35 L443.50 206.35 L443.90 206.36 L444.30 206.37 L444.70 206.38 L445.10 206.39 L445.50 206.40" stroke="#0000ff"/>
<path class="c" d="M32.30 204.30 L32.70 204.28 L33.10 204.27 L33.50 204.26 L33.90 204.24 L34.30 204.23 L34.70 204.21 L35.10 204.20 L35.50 204.18 L35.90 204.17 L36.30 204.15 L36.70 204.14 L37.10 204.13 L37.50 204.11 L37.90 204.10 L38.30 204.08 L38.70 204.07 L39.10 204.06 L39.50 204.04 L39.90 204.03 L40.30 204.02 L40.70 204.00 L41.10 203.99 L41.50 203.98 L41.90 203.97 L42.30 203.95 L42.70 203.94 L43.10 203.93 L43.50 203.91 L43.90 203.90 L44.30 203.89 L44.70 203.88 L45.10 203.87 L45.50 203.85 L45.90 203.84 L46.30 203.83 L46.70 203.82 L47.10 203.80 L47.50 203.79 L47.90 203.78 L48.30 203.77 L48.70 203.76 L49.10 203.75 L49.50 203.73 L49.90 203.72 L50.30 203.71 L50.70 203.70 L51.10 203.69 L51.50 203.68 L51.90 203.67 L52.30 203.66 L52.70 203.64 L53.10 203.63 L53.50 203.62 L53.90 203.61 L54.30 203.60 L54.70 203.59 L55.10 203.58 L55.50 203.57 L55.90 203.56 L56.30 203.55 L56.70 203.54 L57.10 203.53 L57.50 203.52 L57.90 203.51 L58.30 203.49 L58.70 203.48 L59.10 203.47 L59.50 203.46 L59.90 203.45 L60.30 203.44 L60.70 203.43 L61.10 203.42 L61.50 203.41 L61.90 203.40 L62.30 203.39 L62.70 203.38 L63.10 203.37 L63.50 203.36 L63.90 203.35 L64.30 203.34 L64.70 203.33 L65.10 203.32 L65.50 203.31 L65.90 203.30 L66.30 203.29 L66.70 203.28 L67.10 203.27 L67.50 203.26 L67.90 203.25 L68.30 203.24 L68.70 203.23 L69.10 203.22 L69.50 203.21 L69.90 203.20 L70.30 203.19 L70.70 203.18 L71.10 203.17 L71.50 203.16 L71.90 203.15 L72.30 203.15 L72.70 203.14 L73.10 203.13 L73.50 203.12 L73.90 203.11 L74.30 203.10 L74.70 203.09 L75.10 203.08 L75.50 203.07 L75.90 203.06 L76.30 203.05 L76.70 203.04 L77.10 203.03 L77.50 203.02 L77.90 203.01 L78.30 203.00 L78.70 202.99 L79.10 202.98 L79.50 202.97 L79.90 202.96 L80.30 202.95 L80.70 202.94 L81.10 202.93 L81.50 202.92 L81.90 202.91 L82.30 202.90 L82.70 202.89 L83.10 202.88 L83.50 202.87 L83.90 202.86 L84.30 202.85 L84.70 202.83 L85.10 202.82 L85.50 202.81 L85.90 202.80 L86.30 202.79 L86.70 202.78 L87.10 202.77 L87.50 202.76 L87.90 202.75 L88.30 202.74 L88.70 202.73 L89.10 202.72 L89.50 202.71 L89.90 202.70 L90.30 202.69 L90.70 202.67 L91.10 202.66 L91.50 202.65 L91.90 202.64 L92.30 202.63 L92.70 202.62 L93.10 202.61 L93.50 202.60 L93.90 202.58 L94.30 202.57 L94.70 202.56 L95.10 202.55 L95.50 202.54 L95.90 202.53 L96.30 202.51 L96.70 202.50 L97.10 202.49 L97.50 202.48 L97.90 202.47 L98.30 202.45 L98.70 202.44 L99.10 202.43 L99.50 202.42 L99.90 202.40 L100.30 202.39 L100.70 202.38 L101.10 202.37 L101.50 202.35 L101.90 202.34 L102.30 202.33 L102.70 202.31 L103.10 202.30 L103.50 202.29 L103.90 202.27 L104.30 202.26 L104.70 202.25 L105.10 202.23 L105.50 202.22 L105.90 202.21 L106.30 202.20 L106.70 202.18 L107.10 202.17 L107.50 202.16 L107.90 202.14 L108.30 202.13 L108.70 202.12 L109.10 202.10 L109.50 202.09 L109.90 202.08 L110.30 202.06 L110.70 202.05 L111.10 202.04 L111.50 202.03 L111.90 202.01 L112.30 202.00 L112.70 201.99 L113.10 201.98 L113.50 201.96 L113.90 201.95 L114.30 201.94 L114.70 201.93 L115.10 201.92 L115.50 201.90 L115.90 201.89 L116.30 201.88 L116.70 201.87 L117.10 201.86 L117.50 201.85 L117.90 201.84 L118.30 201.82 L118.70 201.81 L119.10 201.80 L119.50 201.79 L119.90 201.78 L120.30 201.77 L120.70 201.76 L121.10 201.75 L121.50 201.74 L121.90 201.73 L122.30 201.73 L122.70 201.72 L123.10 201.71 L123.50 201.70 L123.90 201.69 L124.30 201.68 L124.70 201.68 L125.10 201.67 L125.50 201.66 L125.90 201.65 L126.30 201.65 L126.70 201.64 L127.10 201.64 L127.50 201.63 L127.90 201.62 L128.30 201.62 L128.70 201.61 L129.10 201.61 L129.50 201.61 L129.90 201.60 L130.30 201.60 L130.70 201.59 L131.10 201.59 L131.50 201.59 L131.90 201.59 L132.30 201.58 L132.70 201.58 L133.10 201.58 L133.50 201.58 L133.90 201.58 L134.30 201.58 L134.70 201.58 L135.10 201.57 L135.50 201.57 L135.90 201.58 L136.30 201.58 L136.70 201.58 L137.10 201.58 L137.50 201.58 L137.90 201.58 L138.30 201.58 L138.70 201.58 L139.10 201.59 L139.50 201.59 L139.90 201.59 L140.30 201.59 L140.70 201.60 L141.10 201.60 L141.50 201.60 L141.90 201.61 L142.30 201.61 L142.70 201.62 L143.10 201.62 L143.50 201.63 L143.90 201.63 L144.30 201.64 L144.70 201.64 L145.10 201.65 L145.50 201.65 L145.90 201.66 L146.30 201.66 L146.70 201.67 L147.10 201.68 L147.50 201.68 L147.90 201.69 L148.30 201.69 L148.70 201.70 L149.10 201.71 L149.50 201.72 L149.90 201.72 L150.30 201.73 L150.70 201.74 L151.10 201.75 L151.50 201.75 L151.90 201.76 L152.30 201.77 L152.70 201.78 L153.10 201.79 L153.50 201.80 L153.90 201.80 L154.30 201.81 L154.70 201.82 L155.10 201.83 L155.50 201.84 L155.90 201.85 L156.30 201.86 L156.70 201.87 L157.10 201.88 L157.50 201.89 L157.90 201.89 L158.30 201.90 L158.70 201.91 L159.10 201.92 L159.50 201.93 L159.90 201.94 L160.30 201.95 L160.70 201.96 L161.10 201.97 L161.50 201.98 L161.90 201.99 L162.30 202.00 L162.70 202.01 L163.10 202.02 L163.50 202.03 L163.90 202.04 L164.30 202.05 L164.70 202.06 L165.10 202.07 L165.50 202.08 L165.90 202.10 L166.30 202.11 L166.70 202.12 L167.10 202.13 L167.50 202.14 L167.90 202.15 L168.30 202.16 L168.70 202.17 L169.10 202.18 L169.50 202.19 L169.90 202.20 L170.30 202.21 L170.70 202.22 L171.10 202.23 L171.50 202.24 L171.90 202.25 L172.30 202.26 L172.70 202.27 L173.10 202.28 L173.50 202.29 L173.90 202.30 L174.30 202.31 L174.70 202.32 L175.10 202.33 L175.50 202.34 L175.90 202.35 L176.30 202.36 L176.70 202.37 L177.10 202.38 L177.50 202.39 L177.90 202.40 L178.30 202.41 L178.70 202.42 L179.10 202.43 L179.50 202.44 L179.90 202.45 L180.30 202.46 L180.70 202.47 L181.10 202.48 L181.50 202.49 L181.90 202.50 L182.30 202.51 L182.70 202.52 L183.10 202.53 L183.50 202.54 L183.90 202.55 L184.30 202.56 L184.70 202.57 L185.10 202.58 L185.50 202.59 L185.90 202.60 L186.30 202.61 L186.70 202.62 L187.10 202.63 L187.50 202.64 L187.90 202.65 L188.30 202.66 L188.70 202.67 L189.10 202.68 L189.50 202.69 L189.90 202.70 L190.30 202.71 L190.70 202.73 L191.10 202.74 L191.50 202.75 L191.90 202.76 L192.30 202.77 L192.70 202.78 L193.10 202.79 L193.50 202.80 L193.90 202.82 L194.30 202.83 L194.70 202.84 L195.10 202.85 L195.50 202.86 L195.90 202.88 L196.30 202.89 L196.70 202.90 L197.10 202.91 L197.50 202.92 L197.90 202.94 L198.30 202.95 L198.70 202.96 L199.10 202.98 L199.50 202.99 L199.90 203.00 L200.30 203.01 L200.70 203.03 L201.10 203.04 L201.50 203.05 L201.90 203.07 L202.30 203.08 L202.70 203.09 L203.10 203.11 L203.50 203.12 L203.90 203.13 L204.30 203.15 L204.70 203.16 L205.10 203.18 L205.50 203.19 L205.90 203.20 L206.30 203.22 L206.70 203.23 L207.10 203.24 L207.50 203.26 L207.90 203.27 L208.30 203.29 L208.70 203.30 L209.10 203.31 L209.50 203.33 L209.90 203.34 L210.30 203.36 L210.70 203.37 L211.10 203.38 L211.50 203.40 L211.90 203.41 L212.30 203.43 L212.70 203.44 L213.10 203.45 L213.50 203.47 L213.90 203.48 L214.30 203.50 L214.70 203.51 L215.10 203.52 L215.50 203.54 L215.90 203.55 L216.30 203.57 L216.70 203.58 L217.10 203.59 L217.50 203.61 L217.90 203.62 L218.30 203.63 L218.70 203.65 L219.10 203.66 L219.50 203.67 L219.90 203.69 L220.30 203.70 L220.70 203.71 L221.10 203.73 L221.50 203.74 L221.90 203.75 L222.30 203.77 L222.70 203.78 L223.10 203.79 L223.50 203.81 L223.90 203.82 L224.30 203.83 L224.70 203.84 L225.10 203.86 L225.50 203.87 L225.90 203.88 L226.30 203.89 L226.70 203.90 L227.10 203.92 L227.50 203.93 L227.90 203.94 L228.30 203.95 L228.70 203.96 L229.10 203.97 L229.50 203.99 L229.90 204.00 L230.30 204.01 L230.70 204.02 L231.10 204.03 L231.50 204.04 L231.90 204.05 L232.30 204.06 L232.70 204.08 L233.10 204.09 L233.50 204.10 L233.90 204.11 L234.30 204.13 L234.70 204.14 L235.10 204.15 L235.50 204.17 L235.90 204.18 L236.30 204.20 L236.70 204.22 L237.10 204.24 L237.50 204.26 L237.90 204.28 L238.30 204.30 L238.70 204.32 L239.10 204.35 L239.50 204.37 L239.90 204.40 L240.30 204.43 L240.70 204.46 L241.10 204.49 L241.50 204.53 L241.90 204.56 L242.30 204.60 L242.70 204.64 L243.10 204.68 L243.50 204.72 L243.90 204.77 L244.30 204.81 L244.70 204.86 L245.10 204.91 L245.50 204.96 L245.90 205.01 L246.30 205.05 L246.70 205.09 L247.10 205.13 L247.50 205.16 L247.90 205.19 L248.30 205.22 L248.70 205.26 L249.10 205.29 L249.50 205.33 L249.90 205.37 L250.30 205.42 L250.70 205.46 L251.10 205.51 L251.50 205.55 L251.90 205.60 L252.30 205.64 L252.70 205.68 L253.10 205.72 L253.50 205.76 L253.90 205.80 L254.30 205.84 L254.70 205.87 L255.10 205.90 L255.50 205.93 L255.90 205.96 L256.30 205.98 L256.70 206.00 L257.10 206.02 L257.50 206.04 L257.90 206.05 L258.30 206.07 L258.70 206.09 L259.10 206.10 L259.50 206.12 L259.90 206.13 L260.30 206.14 L260.70 206.16 L261.10 206.17 L261.50 206.18 L261.90 206.19 L262.30 206.21 L262.70 206.22 L263.10 206.23 L263.50 206.24 L263.90 206.25 L264.30 206.26 L264.70 206.27 L265.10 206.28 L265.50 206.29 L265.90 206.30 L266.30 206.31 L266.70 206.32 L267.10 206.32 L267.50 206.33 L267.90 206.34 L268.30 206.35 L268.70 206.36 L269.10 206.38 L269.50 206.39 L269.90 206.40 L270.30 206.41 L270.70 206.42 L271.10 206.42 L271.50 206.43 L271.90 206.43 L272.30 206.43 L272.70 206.43 L273.10 206.43 L273.50 206.42 L273.90 206.42 L274.30 206.41 L274.70 206.40 L275.10 206.19 L275.50 205.67 L275.90 204.96 L276.30 204.18 L276.70 203.39 L277.10 202.38 L277.50 201.31 L277.90 200.45 L278.30 199.90 L278.70 199.41 L279.10 199.02 L279.50 198.73 L279.90 198.57 L280.30 198.46 L280.70 198.36 L281.10 198.26 L281.50 198.18 L281.90 198.11 L282.30 198.06 L282.70 198.01 L283.10 197.96 L283.50 197.91 L283.90 197.86 L284.30 197.82 L284.70 197.77 L285.10 197.72 L285.50 197.67 L285.90 197.61 L286.30 197.55 L286.70 197.49 L287.10 197.42 L287.50 197.34 L287.90 197.26 L288.30 197.17 L288.70 197.07 L289.10 196.96 L289.50 196.83 L289.90 196.67 L290.30 196.46 L290.70 196.23 L291.10 195.96 L291.50 195.68 L291.90 195.39 L292.30 195.09 L292.70 194.80 L293.10 194.51 L293.50 194.20 L293.90 193.89 L294.30 193.57 L294.70 193.24 L295.10 192.91 L295.50 192.58 L295.90 192.23 L296.30 191.89 L296.70 191.54 L297.10 191.20 L297.50 190.85 L297.90 190.51 L298.30 190.16 L298.70 189.82 L299.10 189.47 L299.50 189.13 L299.90 188.78 L300.30 188.43 L300.70 188.09 L301.10 187.74 L301.50 187.40 L301.90 187.05 L302.30 186.71 L302.70 186.37 L303.10 186.03 L303.50 185.68 L303.90 185.35 L304.30 185.01 L304.70 184.67 L305.10 184.33 L305.50 184.00 L305.90 183.66 L306.30 183.33 L306.70 183.00 L307.10 182.67 L307.50 182.34 L307.90 182.02 L308.30 181.70 L308.70 181.38 L309.10 181.07 L309.50 180.77 L309.90 180.47 L310.30 180.18 L310.70 179.89 L311.10 179.62 L311.50 179.35 L311.90 179.10 L312.30 178.86 L312.70 178.62 L313.10 178.40 L313.50 178.20 L313.90 178.01 L314.30 177.83 L314.70 177.66 L315.10 177.50 L315.50 177.36 L315.90 177.22 L316.30 177.10 L316.70 176.98 L317.10 176.87 L317.50 176.77 L317.90 176.68 L318.30 176.60 L318.70 176.52 L319.10 176.45 L319.50 176.38 L319.90 176.32 L320.30 176.26 L320.70 176.20 L321.10 176.15 L321.50 176.10 L321.90 176.06 L322.30 176.02 L322.70 175.99 L323.10 175.96 L323.50 175.94 L323.90 175.92 L324.30 175.91 L324.70 175.90 L325.10 175.90 L325.50 175.90 L325.90 175.91 L326.30 175.93 L326.70 175.95 L327.10 175.98 L327.50 176.01 L327.90 176.05 L328.30 176.09 L328.70 176.14 L329.10 176.19 L329.50 176.24 L329.90 176.31 L330.30 176.37 L330.70 176.44 L331.10 176.52 L331.50 176.60 L331.90 176.68 L332.30 176.77 L332.70 176.86 L333.10 176.95 L333.50 177.05 L333.90 177.15 L334.30 177.26 L334.70 177.36 L335.10 177.47 L335.50 177.59 L335.90 177.70 L336.30 177.82 L336.70 177.94 L337.10 178.06 L337.50 178.19 L337.90 178.32 L338.30 178.44 L338.70 178.57 L339.10 178.70 L339.50 178.83 L339.90 178.97 L340.30 179.10 L340.70 179.23 L341.10 179.37 L341.50 179.50 L341.90 179.64 L342.30 179.78 L342.70 179.91 L343.10 180.05 L343.50 180.19 L343.90 180.32 L344.30 180.46 L344.70 180.60 L345.10 180.74 L345.50 180.88 L345.90 181.02 L346.30 181.16 L346.70 181.30 L347.10 181.44 L347.50 181.58 L347.90 181.72 L348.30 181.86 L348.70 182.00 L349.10 182.14 L349.50 182.28 L349.90 182.42 L350.30 182.56 L350.70 182.70 L351.10 182.84 L351.50 182.98 L351.90 183.12 L352.30 183.26 L352.70 183.40 L353.10 183.53 L353.50 183.67 L353.90 183.80 L354.30 183.94 L354.70 184.07 L355.10 184.21 L355.50 184.34 L355.90 184.47 L356.30 184.60 L356.70 184.73 L357.10 184.87 L357.50 185.00 L357.90 185.13 L358.30 185.25 L358.70 185.38 L359.10 185.51 L359.50 185.64 L359.90 185.77 L360.30 185.90 L360.70 186.02 L361.10 186.15 L361.50 186.28 L361.90 186.40 L362.30 186.53 L362.70 186.65 L363.10 186.78 L363.50 186.90 L363.90 187.03 L364.30 187.15 L364.70 187.28 L365.10 187.40 L365.50 187.53 L365.90 187.65 L366.30 187.77 L366.70 187.89 L367.10 188.02 L367.50 188.14 L367.90 188.26 L368.30 188.38 L368.70 188.51 L369.10 188.63 L369.50 188.75 L369.90 188.87 L370.30 188.99 L370.70 189.11 L371.10 189.23 L371.50 189.35 L371.90 189.47 L372.30 189.59 L372.70 189.71 L373.10 189.83 L373.50 189.95 L373.90 190.07 L374.30 190.18 L374.70 190.30 L375.10 190.42 L375.50 190.53 L375.90 190.65 L376.30 190.77 L376.70 190.88 L377.10 190.99 L377.50 191.11 L377.90 191.22 L378.30 191.33 L378.70 191.44 L379.10 191.56 L379.50 191.67 L379.90 191.77 L380.30 191.88 L380.70 191.99 L381.10 192.10 L381.50 192.21 L381.90 192.31 L382.30 192.42 L382.70 192.52 L383.10 192.63 L383.50 192.73 L383.90 192.83 L384.30 192.93 L384.70 193.03 L385.10 193.14 L385.50 193.24 L385.90 193.34 L386.30 193.43 L386.70 193.53 L387.10 193.63 L387.50 193.73 L387.90 193.82 L388.30 193.92 L388.70 194.02 L389.10 194.11 L389.50 194.20 L389.90 194.30 L390.30 194.39 L390.70 194.48 L391.10 194.58 L391.50 194.67 L391.90 194.76 L392.30 194.85 L392.70 194.94 L393.10 195.03 L393.50 195.11 L393.90 195.20 L394.30 195.29 L394.70 195.38 L395.10 195.46 L395.50 195.55 L395.90 195.63 L396.30 195.72 L396.70 195.80 L397.10 195.88 L397.50 195.97 L397.90 196.05 L398.30 196.13 L398.70 196.21 L399.10 196.29 L399.50 196.37 L399.90 196.45 L400.30 196.52 L400.70 196.60 L401.10 196.68 L401.50 196.75 L401.90 196.83 L402.30 196.91 L402.70 196.98 L403.10 197.05 L403.50 197.13 L403.90 197.20 L404.30 197.27 L404.70 197.34 L405.10 197.41 L405.50 197.48 L405.90 197.55 L406.30 197.62 L406.70 197.69 L407.10 197.76 L407.50 197.82 L407.90 197.89 L408.30 197.96 L408.70 198.02 L409.10 198.09 L409.50 198.15 L409.90 198.21 L410.30 198.28 L410.70 198.34 L411.10 198.40 L411.50 198.47 L411.90 198.53 L412.30 198.59 L412.70 198.65 L413.10 198.71 L413.50 198.77 L413.90 198.83 L414.30 198.89 L414.70 198.94 L415.10 199.00 L415.50 199.06 L415.90 199.12 L416.30 199.17 L416.70 199.23 L417.10 199.29 L417.50 199.34 L417.90 199.40 L418.30 199.45 L418.70 199.51 L419.10 199.56 L419.50 199.61 L419.90 199.67 L420.30 199.72 L420.70 199.77 L421.10 199.82 L421.50 199.87 L421.90 199.92 L422.30 199.98 L422.70 200.03 L423.10 200.08 L423.50 200.12 L423.90 200.17 L424.30 200.22 L424.70 200.27 L425.10 200.32 L425.50 200.36 L425.90 200.41 L426.30 200.46 L426.70 200.50 L427.10 200.55 L427.50 200.60 L427.90 200.64 L428.30 200.68 L428.70 200.73 L429.10 200.77 L429.50 200.82 L429.90 200.86 L430.30 200.90 L430.70 200.94 L431.10 200.99 L431.50 201.03 L431.90 201.07 L432.30 201.11 L432.70 201.15 L433.10 201.19 L433.50 201.23 L433.90 201.27 L434.30 201.31 L434.70 201.35 L435.10 201.39 L435.50 201.43 L435.90 201.46 L436.30 201.50 L436.70 201.54 L437.10 201.58 L437.50 201.61 L437.90 201.65 L438.30 201.69 L438.70 201.72 L439.10 201.76 L439.50 201.79 L439.90 201.83 L440.30 201.87 L440.70 201.90 L441.10 201.93 L441.50 201.97 L441.90 202.00 L442.30 202.04 L442.70 202.07 L443.10 202.10 L443.50 202.14 L443.90 202.17 L444.30 202.20 L444.70 202.24 L445.10 202.27 L445.50 202.30" stroke="#ff0000"/>
<g class="tk">
<line x1="66.60" y1="207.0" x2="66.60" y2="199.30"/>
<line x1="101.00" y1="207.0" x2="101.00" y2="199.30"/>
<line x1="135.40" y1="207.0" x2="135.40" y2="199.30"/>
<line x1="169.80" y1="207.0" x2="169.80" y2="199.30"/>
<line x1="204.20" y1="207.0" x2="204.20" y2="199.30"/>
<line x1="238.60" y1="207.0" x2="238.60" y2="199.30"/>
<line x1="273.00" y1="207.0" x2="273.00" y2="199.30"/>
<line x1="307.40" y1="207.0" x2="307.40" y2="199.30"/>
<line x1="341.80" y1="207.0" x2="341.80" y2="199.30"/>
<line x1="376.20" y1="207.0" x2="376.20" y2="199.30"/>
<line x1="410.60" y1="207.0" x2="410.60" y2="199.30"/>
<line x1="49.40" y1="207.0" x2="49.40" y2="203.00"/>
<line x1="83.80" y1="207.0" x2="83.80" y2="203.00"/>
<line x1="118.20" y1="207.0" x2="118.20" y2="203.00"/>
<line x1="152.60" y1="207.0" x2="152.60" y2="203.00"/>
<line x1="187.00" y1="207.0" x2="187.00" y2="203.00"/>
<line x1="221.40" y1="207.0" x2="221.40" y2="203.00"/>
<line x1="255.80" y1="207.0" x2="255.80" y2="203.00"/>
<line x1="290.20" y1="207.0" x2="290.20" y2="203.00"/>
<line x1="324.60" y1="207.0" x2="324.60" y2="203.00"/>
<line x1="359.00" y1="207.0" x2="359.00" y2="203.00"/>
<line x1="393.40" y1="207.0" x2="393.40" y2="203.00"/>
<line x1="427.80" y1="207.0" x2="427.80" y2="203.00"/>
<line x1="32.3" y1="175.55" x2="40.00" y2="175.55"/>
<line x1="32.3" y1="143.85" x2="40.00" y2="143.85"/>
<line x1="32.3" y1="112.15" x2="40.00" y2="112.15"/>
<line x1="32.3" y1="80.45" x2="40.00" y2="80.45"/>
<line x1="32.3" y1="48.75" x2="40.00" y2="48.75"/>
<line x1="32.3" y1="17.05" x2="40.00" y2="17.05"/>
<line x1="32.3" y1="191.40" x2="36.30" y2="191.40"/>
<line x1="32.3" y1="159.70" x2="36.30" y2="159.70"/>
<line x1="32.3" y1="128.00" x2="36.30" y2="128.00"/>
<line x1="32.3" y1="96.30" x2="36.30" y2="96.30"/>
<line x1="32.3" y1="64.60" x2="36.30" y2="64.60"/>
<line x1="32.3" y1="32.90" x2="36.30" y2="32.90"/>
<line x1="32.3" y1="1.20" x2="36.30" y2="1.20"/>
</g>
<!-- inset -->
<path d="M56.90 41.50 L57.30 42.00 L57.70 42.49 L58.10 42.98 L58.50 43.47 L58.90 43.95 L59.30 44.43 L59.70 44.90 L60.10 45.36 L60.50 45.82 L60.90 46.27 L61.30 46.71 L61.70 47.15 L62.10 47.57 L62.50 47.99 L62.90 48.40 L63.30 48.80 L63.70 49.20 L64.10 49.59 L64.50 49.98 L64.90 50.37 L65.30 50.76 L65.70 51.14 L66.10 51.51 L66.50 51.88 L66.90 52.25 L67.30 52.61 L67.70 52.97 L68.10 53.32 L68.50 53.67 L68.90 54.01 L69.30 54.35 L69.70 54.68 L70.10 55.00 L70.50 55.32 L70.90 55.64 L71.30 55.95 L71.70 56.27 L72.10 56.58 L72.50 56.90 L72.90 57.21 L73.30 57.52 L73.70 57.84 L74.10 58.15 L74.50 58.45 L74.90 58.76 L75.30 59.06 L75.70 59.35 L76.10 59.64 L76.50 59.93 L76.90 60.21 L77.30 60.48 L77.70 60.75 L78.10 61.01 L78.50 61.27 L78.90 61.51 L79.30 61.75 L79.70 61.98 L80.10 62.19 L80.50 62.40 L80.90 62.60 L81.30 62.79 L81.70 62.98 L82.10 63.16 L82.50 63.34 L82.90 63.51 L83.30 63.67 L83.70 63.83 L84.10 63.99 L84.50 64.14 L84.90 64.28 L85.30 64.41 L85.70 64.54 L86.10 64.66 L86.50 64.77 L86.90 64.88 L87.30 64.97 L87.70 65.06 L88.10 65.15 L88.50 65.24 L88.90 65.31 L89.30 65.38 L89.70 65.45 L90.10 65.51 L90.50 65.56 L90.90 65.61 L91.30 65.64 L91.70 65.67 L92.10 65.70 L92.50 65.70 L92.90 65.66 L93.30 65.58 L93.70 65.48 L94.10 65.34 L94.50 65.18 L94.90 65.00 L95.30 64.81 L95.70 64.61 L96.10 64.40 L96.50 64.18 L96.90 63.88 L97.30 63.48 L97.70 63.01 L98.10 62.48 L98.50 61.92 L98.90 61.33 L99.30 60.75 L99.70 60.14 L100.10 59.47 L100.50 58.73 L100.90 57.94 L101.30 57.10 L101.70 56.22 L102.10 55.32 L102.50 54.40 L102.90 53.39 L103.30 52.25 L103.70 50.98 L104.10 49.59 L104.50 48.07 L104.90 46.45 L105.30 44.76 L105.70 43.07 L106.10 41.40 L106.50 39.81 L106.90 38.24 L107.30 36.67 L107.70 35.07 L108.10 33.42 L108.20 33.00 L108.50 31.59 L108.90 29.71 L109.30 27.83 L109.70 25.94 L110.10 24.06 L110.50 22.18 L110.90 20.30 L110.90 20.30 L111.30 19.90 L111.50 19.70 L111.70 19.60 L112.10 19.40 L112.50 19.20 L112.90 19.00 L113.30 18.80 L113.70 18.60 L114.10 18.40 L114.50 18.20 L114.90 18.00 L114.90 18.00 L115.30 19.00 L115.50 19.50 L115.70 20.88 L116.10 23.64 L116.50 26.40 L116.90 29.17 L117.30 31.93 L117.60 34.00 L117.70 34.89 L118.10 38.44 L118.50 42.00 L118.90 45.56 L119.30 49.11 L119.40 50.00 L119.70 51.89 L120.10 54.21 L120.50 56.33 L120.90 58.31 L121.30 60.20 L121.70 62.04 L122.10 63.91 L122.50 65.79 L122.90 67.48 L123.30 68.79 L123.70 69.97 L124.10 71.11 L124.50 72.15 L124.90 73.03 L125.30 73.70 L125.70 74.11 L126.10 74.23 L126.50 74.21 L126.90 74.08 L127.30 73.86 L127.70 73.58 L128.10 73.22 L128.50 72.82 L128.90 72.39 L129.30 71.89 L129.70 71.31 L130.10 70.66 L130.50 69.93 L130.90 69.12 L131.30 68.23 L131.70 67.23 L132.10 66.05 L132.50 64.72 L132.90 63.31 L133.30 61.85 L133.70 60.40 L134.10 58.99 L134.50 57.68 L134.90 56.44 L135.30 55.22 L135.70 54.01 L136.10 52.81 L136.50 51.58 L136.90 50.32 L137.30 49.01 L137.70 47.66 L138.10 46.28 L138.50 44.88 L138.90 43.47 L139.30 42.05 L139.70 40.64 L140.10 39.25 L140.50 37.89 L140.90 36.57 L141.30 35.30 L141.70 34.07 L142.10 32.89 L142.50 31.75 L142.90 30.65 L143.30 29.60 L143.70 28.57 L144.10 27.55 L144.50 26.57 L144.90 25.68 L145.30 24.90 L145.70 24.20 L146.10 23.55 L146.50 22.95 L146.90 22.43 L147.30 22.00 L147.70 21.63 L148.10 21.28 L148.50 20.97 L148.90 20.70 L149.30 20.50 L149.70 20.33 L150.10 20.16 L150.50 19.99 L150.90 19.83 L151.30 19.68 L151.70 19.55 L152.10 19.44 L152.50 19.36 L152.90 19.31 L153.30 19.30 L153.70 19.33 L154.10 19.38 L154.50 19.46 L154.90 19.56 L155.30 19.68 L155.70 19.81 L156.10 19.95 L156.50 20.10 L156.90 20.26 L157.30 20.42 L157.70 20.61 L158.10 20.80 L158.50 21.01 L158.90 21.24 L159.30 21.47 L159.70 21.71 L160.10 21.95 L160.50 22.20 L160.90 22.45 L161.30 22.70 L161.70 22.95 L162.10 23.21 L162.50 23.48 L162.90 23.75 L163.30 24.03 L163.70 24.30 L164.10 24.59 L164.50 24.87 L164.90 25.16 L165.30 25.44 L165.70 25.73 L166.10 26.01 L166.50 26.29 L166.90 26.56 L167.30 26.84 L167.70 27.10 L168.10 27.36 L168.50 27.63 L168.90 27.89 L169.30 28.15 L169.70 28.41 L170.10 28.67 L170.50 28.93 L170.90 29.19 L171.30 29.44 L171.70 29.69 L172.10 29.94 L172.50 30.18 L172.90 30.42 L173.30 30.65 L173.70 30.87 L174.10 31.09 L174.50 31.30 L174.90 31.50 L175.30 31.70 L175.70 31.89 L176.10 32.08 L176.50 32.26 L176.90 32.45 L177.30 32.62 L177.70 32.80 L178.10 32.97 L178.50 33.14 L178.90 33.30 L179.30 33.46 L179.70 33.62 L180.10 33.77 L180.50 33.92 L180.90 34.06 L181.30 34.20 L181.70 34.34 L182.10 34.47 L182.50 34.61 L182.90 34.74 L183.30 34.87 L183.70 34.99 L184.10 35.10 L184.50 35.20 L184.90 35.30 L184.90 83.30 L56.90 83.30 Z" fill="#ccccff" stroke="none"/>
<line x1="121" y1="83.6" x2="121" y2="5.6" stroke="#000" stroke-width="1.15" stroke-dasharray="1.25 2.5"/>
<path d="M57.0 5.6 L57.0 83.3 L184.9 83.3" fill="none" stroke="#000" stroke-width="0.95"/>
<path d="M56.6 5.6 L184.9 5.6 L184.9 83.3" fill="none" stroke="#000" stroke-width="0.8"/>
<path class="c" d="M56.90 78.30 L57.30 78.35 L57.70 78.39 L58.10 78.44 L58.50 78.49 L58.90 78.54 L59.30 78.58 L59.70 78.63 L60.10 78.68 L60.50 78.72 L60.90 78.77 L61.30 78.82 L61.70 78.86 L62.10 78.91 L62.50 78.96 L62.90 79.00 L63.30 79.05 L63.70 79.09 L64.10 79.14 L64.50 79.18 L64.90 79.23 L65.30 79.27 L65.70 79.32 L66.10 79.36 L66.50 79.41 L66.90 79.45 L67.30 79.50 L67.70 79.54 L68.10 79.59 L68.50 79.63 L68.90 79.68 L69.30 79.72 L69.70 79.76 L70.10 79.81 L70.50 79.85 L70.90 79.89 L71.30 79.93 L71.70 79.98 L72.10 80.02 L72.50 80.06 L72.90 80.10 L73.30 80.15 L73.70 80.19 L74.10 80.23 L74.50 80.27 L74.90 80.31 L75.30 80.35 L75.70 80.39 L76.10 80.43 L76.50 80.47 L76.90 80.51 L77.30 80.55 L77.70 80.59 L78.10 80.63 L78.50 80.67 L78.90 80.71 L79.30 80.75 L79.70 80.79 L80.10 80.82 L80.50 80.86 L80.90 80.90 L81.30 80.94 L81.70 80.97 L82.10 81.01 L82.50 81.05 L82.90 81.09 L83.30 81.12 L83.70 81.16 L84.10 81.20 L84.50 81.24 L84.90 81.27 L85.30 81.31 L85.70 81.35 L86.10 81.38 L86.50 81.42 L86.90 81.46 L87.30 81.49 L87.70 81.53 L88.10 81.56 L88.50 81.60 L88.90 81.63 L89.30 81.66 L89.70 81.70 L90.10 81.73 L90.50 81.76 L90.90 81.79 L91.30 81.82 L91.70 81.85 L92.10 81.88 L92.50 81.91 L92.90 81.94 L93.30 81.97 L93.70 82.00 L94.10 82.02 L94.50 82.05 L94.90 82.08 L95.30 82.10 L95.70 82.12 L96.10 82.15 L96.50 82.17 L96.90 82.19 L97.30 82.22 L97.70 82.24 L98.10 82.26 L98.50 82.28 L98.90 82.30 L99.30 82.32 L99.70 82.35 L100.10 82.37 L100.50 82.39 L100.90 82.41 L101.30 82.43 L101.70 82.45 L102.10 82.47 L102.50 82.49 L102.90 82.50 L103.30 82.52 L103.70 82.54 L104.10 82.56 L104.50 82.58 L104.90 82.59 L105.30 82.61 L105.70 82.63 L106.10 82.65 L106.50 82.66 L106.90 82.68 L107.30 82.70 L107.70 82.71 L108.10 82.73 L108.50 82.74 L108.90 82.76 L109.30 82.77 L109.70 82.79 L110.10 82.80 L110.50 82.82 L110.90 82.83 L111.30 82.84 L111.70 82.85 L112.10 82.86 L112.50 82.87 L112.90 82.88 L113.30 82.89 L113.70 82.90 L114.10 82.91 L114.50 82.91 L114.90 82.92 L115.30 82.92 L115.70 82.93 L116.10 82.94 L116.50 82.94 L116.90 82.94 L117.30 82.95 L117.70 82.95 L118.10 82.96 L118.50 82.96 L118.90 82.96 L119.30 82.97 L119.70 82.97 L120.10 82.98 L120.50 82.98 L120.90 82.99 L121.30 82.99 L121.70 83.00 L122.10 83.00 L122.50 83.00 L122.90 82.99 L123.30 82.98 L123.70 82.96 L124.10 82.93 L124.50 82.90 L124.90 82.85 L125.30 82.80 L125.70 82.74 L126.10 82.67 L126.50 82.60 L126.90 82.52 L127.30 82.43 L127.70 82.33 L128.10 82.12 L128.50 81.58 L128.90 80.77 L129.30 79.77 L129.70 78.65 L130.10 77.47 L130.50 76.31 L130.90 75.24 L131.30 74.21 L131.70 73.01 L132.10 71.71 L132.50 70.42 L132.90 69.24 L133.30 68.28 L133.70 67.62 L134.10 67.38 L134.50 67.46 L134.90 67.76 L135.30 68.24 L135.70 68.84 L136.10 69.51 L136.50 70.20 L136.90 70.85 L137.30 71.46 L137.70 72.14 L138.10 72.85 L138.50 73.56 L138.90 74.25 L139.30 74.89 L139.70 75.45 L140.10 75.90 L140.50 76.31 L140.90 76.70 L141.30 77.06 L141.70 77.37 L142.10 77.64 L142.50 77.84 L142.90 77.98 L143.30 78.06 L143.70 78.14 L144.10 78.22 L144.50 78.29 L144.90 78.37 L145.30 78.44 L145.70 78.51 L146.10 78.58 L146.50 78.65 L146.90 78.71 L147.30 78.76 L147.70 78.82 L148.10 78.86 L148.50 78.90 L148.90 78.94 L149.30 78.97 L149.70 78.99 L150.10 79.00 L150.50 79.01 L150.90 79.03 L151.30 79.04 L151.70 79.05 L152.10 79.06 L152.50 79.07 L152.90 79.09 L153.30 79.10 L153.70 79.11 L154.10 79.12 L154.50 79.13 L154.90 79.14 L155.30 79.16 L155.70 79.17 L156.10 79.18 L156.50 79.19 L156.90 79.20 L157.30 79.21 L157.70 79.22 L158.10 79.23 L158.50 79.24 L158.90 79.25 L159.30 79.27 L159.70 79.28 L160.10 79.29 L160.50 79.30 L160.90 79.31 L161.30 79.32 L161.70 79.33 L162.10 79.34 L162.50 79.34 L162.90 79.35 L163.30 79.36 L163.70 79.37 L164.10 79.38 L164.50 79.39 L164.90 79.40 L165.30 79.41 L165.70 79.41 L166.10 79.42 L166.50 79.43 L166.90 79.44 L167.30 79.45 L167.70 79.46 L168.10 79.47 L168.50 79.47 L168.90 79.48 L169.30 79.49 L169.70 79.50 L170.10 79.51 L170.50 79.52 L170.90 79.53 L171.30 79.53 L171.70 79.54 L172.10 79.55 L172.50 79.56 L172.90 79.57 L173.30 79.58 L173.70 79.59 L174.10 79.59 L174.50 79.60 L174.90 79.61 L175.30 79.62 L175.70 79.63 L176.10 79.64 L176.50 79.64 L176.90 79.65 L177.30 79.66 L177.70 79.67 L178.10 79.68 L178.50 79.68 L178.90 79.69 L179.30 79.70 L179.70 79.71 L180.10 79.72 L180.50 79.72 L180.90 79.73 L181.30 79.74 L181.70 79.75 L182.10 79.75 L182.50 79.76 L182.90 79.77 L183.30 79.77 L183.70 79.78 L184.10 79.79 L184.50 79.79 L184.90 79.80" stroke="#33cc33"/>
<path class="c" d="M56.90 82.60 L57.30 82.61 L57.70 82.61 L58.10 82.62 L58.50 82.63 L58.90 82.63 L59.30 82.64 L59.70 82.64 L60.10 82.65 L60.50 82.65 L60.90 82.66 L61.30 82.66 L61.70 82.67 L62.10 82.67 L62.50 82.67 L62.90 82.68 L63.30 82.68 L63.70 82.68 L64.10 82.69 L64.50 82.69 L64.90 82.69 L65.30 82.69 L65.70 82.69 L66.10 82.70 L66.50 82.70 L66.90 82.70 L67.30 82.70 L67.70 82.70 L68.10 82.70 L68.50 82.70 L68.90 82.70 L69.30 82.70 L69.70 82.70 L70.10 82.70 L70.50 82.70 L70.90 82.70 L71.30 82.70 L71.70 82.70 L72.10 82.70 L72.50 82.70 L72.90 82.70 L73.30 82.70 L73.70 82.70 L74.10 82.69 L74.50 82.69 L74.90 82.69 L75.30 82.69 L75.70 82.69 L76.10 82.69 L76.50 82.68 L76.90 82.68 L77.30 82.68 L77.70 82.68 L78.10 82.67 L78.50 82.67 L78.90 82.67 L79.30 82.67 L79.70 82.67 L80.10 82.66 L80.50 82.66 L80.90 82.66 L81.30 82.66 L81.70 82.65 L82.10 82.65 L82.50 82.65 L82.90 82.64 L83.30 82.64 L83.70 82.64 L84.10 82.64 L84.50 82.63 L84.90 82.63 L85.30 82.63 L85.70 82.63 L86.10 82.62 L86.50 82.62 L86.90 82.62 L87.30 82.62 L87.70 82.61 L88.10 82.61 L88.50 82.61 L88.90 82.61 L89.30 82.60 L89.70 82.60 L90.10 82.60 L90.50 82.59 L90.90 82.58 L91.30 82.57 L91.70 82.56 L92.10 82.54 L92.50 82.52 L92.90 82.49 L93.30 82.46 L93.70 82.44 L94.10 82.41 L94.50 82.37 L94.90 82.29 L95.30 82.19 L95.70 82.06 L96.10 81.90 L96.50 81.73 L96.90 81.55 L97.30 81.35 L97.70 81.15 L98.10 80.94 L98.50 80.74 L98.90 80.55 L99.30 80.34 L99.70 80.08 L100.10 79.77 L100.50 79.43 L100.90 79.07 L101.30 78.70 L101.70 78.33 L102.10 77.97 L102.50 77.64 L102.90 77.35 L103.30 77.11 L103.70 76.93 L104.10 76.82 L104.50 76.80 L104.90 76.88 L105.30 77.06 L105.70 77.33 L106.10 77.66 L106.50 78.04 L106.90 78.44 L107.30 78.86 L107.70 79.27 L108.10 79.66 L108.50 80.00 L108.90 80.35 L109.30 80.74 L109.70 81.14 L110.10 81.54 L110.50 81.90 L110.90 82.20 L111.30 82.41 L111.70 82.50 L112.10 82.53 L112.50 82.55 L112.90 82.56 L113.30 82.57 L113.70 82.58 L114.10 82.59 L114.50 82.59 L114.90 82.60 L115.30 82.60 L115.70 82.61 L116.10 82.61 L116.50 82.62 L116.90 82.62 L117.30 82.63 L117.70 82.63 L118.10 82.64 L118.50 82.64 L118.90 82.64 L119.30 82.65 L119.70 82.65 L120.10 82.65 L120.50 82.65 L120.90 82.66 L121.30 82.66 L121.70 82.66 L122.10 82.66 L122.50 82.66 L122.90 82.66 L123.30 82.66 L123.70 82.65 L124.10 82.65 L124.50 82.65 L124.90 82.65 L125.30 82.64 L125.70 82.64 L126.10 82.63 L126.50 82.63 L126.90 82.62 L127.30 82.61 L127.70 82.61 L128.10 82.60 L128.50 82.52 L128.90 82.38 L129.30 82.17 L129.70 81.91 L130.10 81.62 L130.50 81.31 L130.90 80.98 L131.30 80.66 L131.70 80.34 L132.10 79.97 L132.50 79.56 L132.90 79.12 L133.30 78.68 L133.70 78.25 L134.10 77.85 L134.50 77.50 L134.90 77.17 L135.30 76.84 L135.70 76.54 L136.10 76.28 L136.50 76.09 L136.90 76.00 L137.30 76.03 L137.70 76.18 L138.10 76.40 L138.50 76.69 L138.90 77.01 L139.30 77.34 L139.70 77.67 L140.10 78.05 L140.50 78.49 L140.90 78.96 L141.30 79.43 L141.70 79.89 L142.10 80.30 L142.50 80.67 L142.90 80.95 L143.30 81.15 L143.70 81.35 L144.10 81.53 L144.50 81.70 L144.90 81.85 L145.30 81.98 L145.70 82.09 L146.10 82.19 L146.50 82.25 L146.90 82.29 L147.30 82.31 L147.70 82.33 L148.10 82.36 L148.50 82.38 L148.90 82.40 L149.30 82.42 L149.70 82.44 L150.10 82.45 L150.50 82.47 L150.90 82.49 L151.30 82.51 L151.70 82.52 L152.10 82.54 L152.50 82.55 L152.90 82.56 L153.30 82.57 L153.70 82.58 L154.10 82.59 L154.50 82.60 L154.90 82.60 L155.30 82.60 L155.70 82.60 L156.10 82.60 L156.50 82.61 L156.90 82.61 L157.30 82.61 L157.70 82.61 L158.10 82.61 L158.50 82.62 L158.90 82.62 L159.30 82.62 L159.70 82.62 L160.10 82.62 L160.50 82.63 L160.90 82.63 L161.30 82.63 L161.70 82.63 L162.10 82.63 L162.50 82.64 L162.90 82.64 L163.30 82.64 L163.70 82.64 L164.10 82.64 L164.50 82.65 L164.90 82.65 L165.30 82.65 L165.70 82.65 L166.10 82.65 L166.50 82.66 L166.90 82.66 L167.30 82.66 L167.70 82.66 L168.10 82.66 L168.50 82.66 L168.90 82.66 L169.30 82.67 L169.70 82.67 L170.10 82.67 L170.50 82.67 L170.90 82.67 L171.30 82.67 L171.70 82.67 L172.10 82.67 L172.50 82.67 L172.90 82.67 L173.30 82.67 L173.70 82.67 L174.10 82.67 L174.50 82.67 L174.90 82.67 L175.30 82.67 L175.70 82.67 L176.10 82.67 L176.50 82.67 L176.90 82.67 L177.30 82.67 L177.70 82.66 L178.10 82.66 L178.50 82.66 L178.90 82.66 L179.30 82.66 L179.70 82.65 L180.10 82.65 L180.50 82.65 L180.90 82.64 L181.30 82.64 L181.70 82.64 L182.10 82.63 L182.50 82.63 L182.90 82.62 L183.30 82.62 L183.70 82.62 L184.10 82.61 L184.50 82.61 L184.90 82.60" stroke="#0000ff"/>
<path class="c" d="M56.90 82.50 L57.30 82.50 L57.70 82.50 L58.10 82.50 L58.50 82.50 L58.90 82.50 L59.30 82.51 L59.70 82.51 L60.10 82.51 L60.50 82.51 L60.90 82.51 L61.30 82.51 L61.70 82.51 L62.10 82.51 L62.50 82.51 L62.90 82.51 L63.30 82.51 L63.70 82.52 L64.10 82.52 L64.50 82.52 L64.90 82.52 L65.30 82.52 L65.70 82.52 L66.10 82.52 L66.50 82.52 L66.90 82.52 L67.30 82.52 L67.70 82.52 L68.10 82.53 L68.50 82.53 L68.90 82.53 L69.30 82.53 L69.70 82.53 L70.10 82.53 L70.50 82.53 L70.90 82.53 L71.30 82.53 L71.70 82.53 L72.10 82.53 L72.50 82.53 L72.90 82.53 L73.30 82.54 L73.70 82.54 L74.10 82.54 L74.50 82.54 L74.90 82.54 L75.30 82.54 L75.70 82.54 L76.10 82.54 L76.50 82.54 L76.90 82.54 L77.30 82.54 L77.70 82.54 L78.10 82.54 L78.50 82.55 L78.90 82.55 L79.30 82.55 L79.70 82.55 L80.10 82.55 L80.50 82.55 L80.90 82.55 L81.30 82.55 L81.70 82.55 L82.10 82.55 L82.50 82.55 L82.90 82.55 L83.30 82.55 L83.70 82.55 L84.10 82.56 L84.50 82.56 L84.90 82.56 L85.30 82.56 L85.70 82.56 L86.10 82.56 L86.50 82.56 L86.90 82.56 L87.30 82.56 L87.70 82.56 L88.10 82.56 L88.50 82.56 L88.90 82.56 L89.30 82.56 L89.70 82.56 L90.10 82.57 L90.50 82.57 L90.90 82.57 L91.30 82.57 L91.70 82.57 L92.10 82.57 L92.50 82.57 L92.90 82.57 L93.30 82.57 L93.70 82.57 L94.10 82.57 L94.50 82.57 L94.90 82.57 L95.30 82.57 L95.70 82.57 L96.10 82.58 L96.50 82.58 L96.90 82.58 L97.30 82.58 L97.70 82.58 L98.10 82.58 L98.50 82.58 L98.90 82.58 L99.30 82.58 L99.70 82.58 L100.10 82.58 L100.50 82.58 L100.90 82.58 L101.30 82.58 L101.70 82.59 L102.10 82.59 L102.50 82.59 L102.90 82.59 L103.30 82.59 L103.70 82.59 L104.10 82.59 L104.50 82.59 L104.90 82.59 L105.30 82.59 L105.70 82.59 L106.10 82.59 L106.50 82.59 L106.90 82.59 L107.30 82.60 L107.70 82.60 L108.10 82.60 L108.50 82.60 L108.90 82.60 L109.30 82.60 L109.70 82.60 L110.10 82.60 L110.50 82.60 L110.90 82.60 L111.30 82.60 L111.70 82.60 L112.10 82.60 L112.50 82.60 L112.90 82.60 L113.30 82.60 L113.70 82.61 L114.10 82.61 L114.50 82.61 L114.90 82.61 L115.30 82.61 L115.70 82.61 L116.10 82.61 L116.50 82.61 L116.90 82.61 L117.30 82.61 L117.70 82.61 L118.10 82.61 L118.50 82.61 L118.90 82.61 L119.30 82.61 L119.70 82.61 L120.10 82.61 L120.50 82.61 L120.90 82.61 L121.30 82.61 L121.70 82.61 L122.10 82.61 L122.50 82.61 L122.90 82.60 L123.30 82.60 L123.70 82.60 L124.10 82.60 L124.50 82.60 L124.90 82.60 L125.30 82.60 L125.70 82.60 L126.10 82.60 L126.50 82.60 L126.90 82.60 L127.30 82.60 L127.70 82.60 L128.10 82.59 L128.50 82.55 L128.90 82.48 L129.30 82.38 L129.70 82.27 L130.10 82.14 L130.50 81.99 L130.90 81.84 L131.30 81.68 L131.70 81.52 L132.10 81.36 L132.50 81.19 L132.90 81.01 L133.30 80.81 L133.70 80.60 L134.10 80.39 L134.50 80.16 L134.90 79.93 L135.30 79.69 L135.70 79.46 L136.10 79.22 L136.50 78.99 L136.90 78.76 L137.30 78.52 L137.70 78.28 L138.10 78.01 L138.50 77.74 L138.90 77.47 L139.30 77.19 L139.70 76.92 L140.10 76.66 L140.50 76.41 L140.90 76.18 L141.30 75.97 L141.70 75.78 L142.10 75.63 L142.50 75.51 L142.90 75.39 L143.30 75.28 L143.70 75.18 L144.10 75.09 L144.50 75.00 L144.90 74.92 L145.30 74.85 L145.70 74.79 L146.10 74.73 L146.50 74.68 L146.90 74.64 L147.30 74.60 L147.70 74.57 L148.10 74.53 L148.50 74.49 L148.90 74.45 L149.30 74.42 L149.70 74.38 L150.10 74.34 L150.50 74.31 L150.90 74.28 L151.30 74.25 L151.70 74.23 L152.10 74.21 L152.50 74.20 L152.90 74.20 L153.30 74.20 L153.70 74.20 L154.10 74.22 L154.50 74.23 L154.90 74.25 L155.30 74.27 L155.70 74.29 L156.10 74.31 L156.50 74.34 L156.90 74.36 L157.30 74.38 L157.70 74.41 L158.10 74.43 L158.50 74.46 L158.90 74.48 L159.30 74.50 L159.70 74.53 L160.10 74.55 L160.50 74.56 L160.90 74.58 L161.30 74.59 L161.70 74.60 L162.10 74.61 L162.50 74.61 L162.90 74.62 L163.30 74.62 L163.70 74.63 L164.10 74.63 L164.50 74.63 L164.90 74.63 L165.30 74.63 L165.70 74.63 L166.10 74.62 L166.50 74.62 L166.90 74.61 L167.30 74.61 L167.70 74.60 L168.10 74.60 L168.50 74.59 L168.90 74.58 L169.30 74.57 L169.70 74.56 L170.10 74.55 L170.50 74.54 L170.90 74.53 L171.30 74.52 L171.70 74.51 L172.10 74.50 L172.50 74.48 L172.90 74.47 L173.30 74.45 L173.70 74.43 L174.10 74.41 L174.50 74.38 L174.90 74.36 L175.30 74.33 L175.70 74.30 L176.10 74.27 L176.50 74.24 L176.90 74.21 L177.30 74.18 L177.70 74.14 L178.10 74.11 L178.50 74.07 L178.90 74.03 L179.30 73.99 L179.70 73.95 L180.10 73.91 L180.50 73.87 L180.90 73.83 L181.30 73.79 L181.70 73.75 L182.10 73.70 L182.50 73.66 L182.90 73.62 L183.30 73.57 L183.70 73.53 L184.10 73.49 L184.50 73.44 L184.90 73.40" stroke="#ff0000"/>
<g class="tk">
<line x1="69.64" y1="83.3" x2="69.64" y2="76.30"/>
<line x1="95.32" y1="83.3" x2="95.32" y2="76.30"/>
<line x1="121.00" y1="83.3" x2="121.00" y2="76.30"/>
<line x1="146.68" y1="83.3" x2="146.68" y2="76.30"/>
<line x1="172.36" y1="83.3" x2="172.36" y2="76.30"/>
<line x1="82.48" y1="83.3" x2="82.48" y2="79.70"/>
<line x1="108.16" y1="83.3" x2="108.16" y2="79.70"/>
<line x1="133.84" y1="83.3" x2="133.84" y2="79.70"/>
<line x1="159.52" y1="83.3" x2="159.52" y2="79.70"/>
<line x1="57.0" y1="52.10" x2="64.00" y2="52.10"/>
<line x1="57.0" y1="20.90" x2="64.00" y2="20.90"/>
<line x1="57.0" y1="67.70" x2="60.60" y2="67.70"/>
<line x1="57.0" y1="36.50" x2="60.60" y2="36.50"/>
</g>
<!-- labels -->
<text x="32.20" y="222" text-anchor="middle" font-size="14.8" stroke="#000" stroke-width="0.2">-7</text>
<text x="66.60" y="222" text-anchor="middle" font-size="14.8" stroke="#000" stroke-width="0.2">-6</text>
<text x="101.00" y="222" text-anchor="middle" font-size="14.8" stroke="#000" stroke-width="0.2">-5</text>
<text x="135.40" y="222" text-anchor="middle" font-size="14.8" stroke="#000" stroke-width="0.2">-4</text>
<text x="169.80" y="222" text-anchor="middle" font-size="14.8" stroke="#000" stroke-width="0.2">-3</text>
<text x="204.20" y="222" text-anchor="middle" font-size="14.8" stroke="#000" stroke-width="0.2">-2</text>
<text x="238.60" y="222" text-anchor="middle" font-size="14.8" stroke="#000" stroke-width="0.2">-1</text>
<text x="273.00" y="222" text-anchor="middle" font-size="14.8" stroke="#000" stroke-width="0.2">0</text>
<text x="307.40" y="222" text-anchor="middle" font-size="14.8" stroke="#000" stroke-width="0.2">1</text>
<text x="341.80" y="222" text-anchor="middle" font-size="14.8" stroke="#000" stroke-width="0.2">2</text>
<text x="376.20" y="222" text-anchor="middle" font-size="14.8" stroke="#000" stroke-width="0.2">3</text>
<text x="410.60" y="222" text-anchor="middle" font-size="14.8" stroke="#000" stroke-width="0.2">4</text>
<text x="445.00" y="222" text-anchor="middle" font-size="14.8" stroke="#000" stroke-width="0.2">5</text>
<text x="28.4" y="212.60" text-anchor="end" font-size="14.8" stroke="#000" stroke-width="0.2">0</text>
<text x="28.4" y="180.90" text-anchor="end" font-size="14.8" stroke="#000" stroke-width="0.2">1</text>
<text x="28.4" y="149.20" text-anchor="end" font-size="14.8" stroke="#000" stroke-width="0.2">2</text>
<text x="28.4" y="117.50" text-anchor="end" font-size="14.8" stroke="#000" stroke-width="0.2">3</text>
<text x="28.4" y="85.80" text-anchor="end" font-size="14.8" stroke="#000" stroke-width="0.2">4</text>
<text x="28.4" y="54.10" text-anchor="end" font-size="14.8" stroke="#000" stroke-width="0.2">5</text>
<text x="28.4" y="22.40" text-anchor="end" font-size="14.8" stroke="#000" stroke-width="0.2">6</text>
<text x="69.64" y="97" text-anchor="middle" font-size="12">-0.4</text>
<text x="95.32" y="97" text-anchor="middle" font-size="12">-0.2</text>
<text x="121.00" y="97" text-anchor="middle" font-size="12">0</text>
<text x="146.68" y="97" text-anchor="middle" font-size="12">0.2</text>
<text x="172.36" y="97" text-anchor="middle" font-size="12">0.4</text>
<text x="54" y="87.70" text-anchor="end" font-size="12">0</text>
<text x="54" y="56.50" text-anchor="end" font-size="12">1</text>
<text x="54" y="25.30" text-anchor="end" font-size="12">2</text>
<text x="239" y="238.6" text-anchor="middle" font-size="16"><tspan font-family="Liberation Serif" font-size="17" stroke="#000" stroke-width="0.35">ω</tspan> (eV)</text>
<text transform="translate(13 103.8) rotate(-90)" text-anchor="middle" font-size="16">A (1/eV)</text>
<!-- legend -->
<g stroke-width="1.6">
<line x1="363.4" y1="19.8" x2="380" y2="19.8" stroke="#ccccff"/>
<line x1="363.4" y1="36.2" x2="380" y2="36.2" stroke="#000"/>
<line x1="363.4" y1="56.9" x2="380" y2="56.9" stroke="#33cc33"/>
<line x1="363.4" y1="82.8" x2="380" y2="82.8" stroke="#0000ff"/>
<line x1="363.4" y1="107.7" x2="380" y2="107.7" stroke="#ff0000"/>
</g>
<g font-size="16.3">
<text x="388" y="25.5">total</text>
<text x="388" y="41.9">Cr-total</text>
<text x="388" y="59">Cr-e</text>
<text x="420" y="64" font-size="11.5">g</text>
<text x="426.3" y="58.2">'</text>
<text x="388" y="84.5">Cr-a</text>
<text x="420.3" y="90.2" font-size="11.5">1g</text>
<text x="388" y="109.4">Cr-e</text>
<text x="420" y="115.2" font-size="11.5">g</text>
</g>
</svg>
</body></html>
